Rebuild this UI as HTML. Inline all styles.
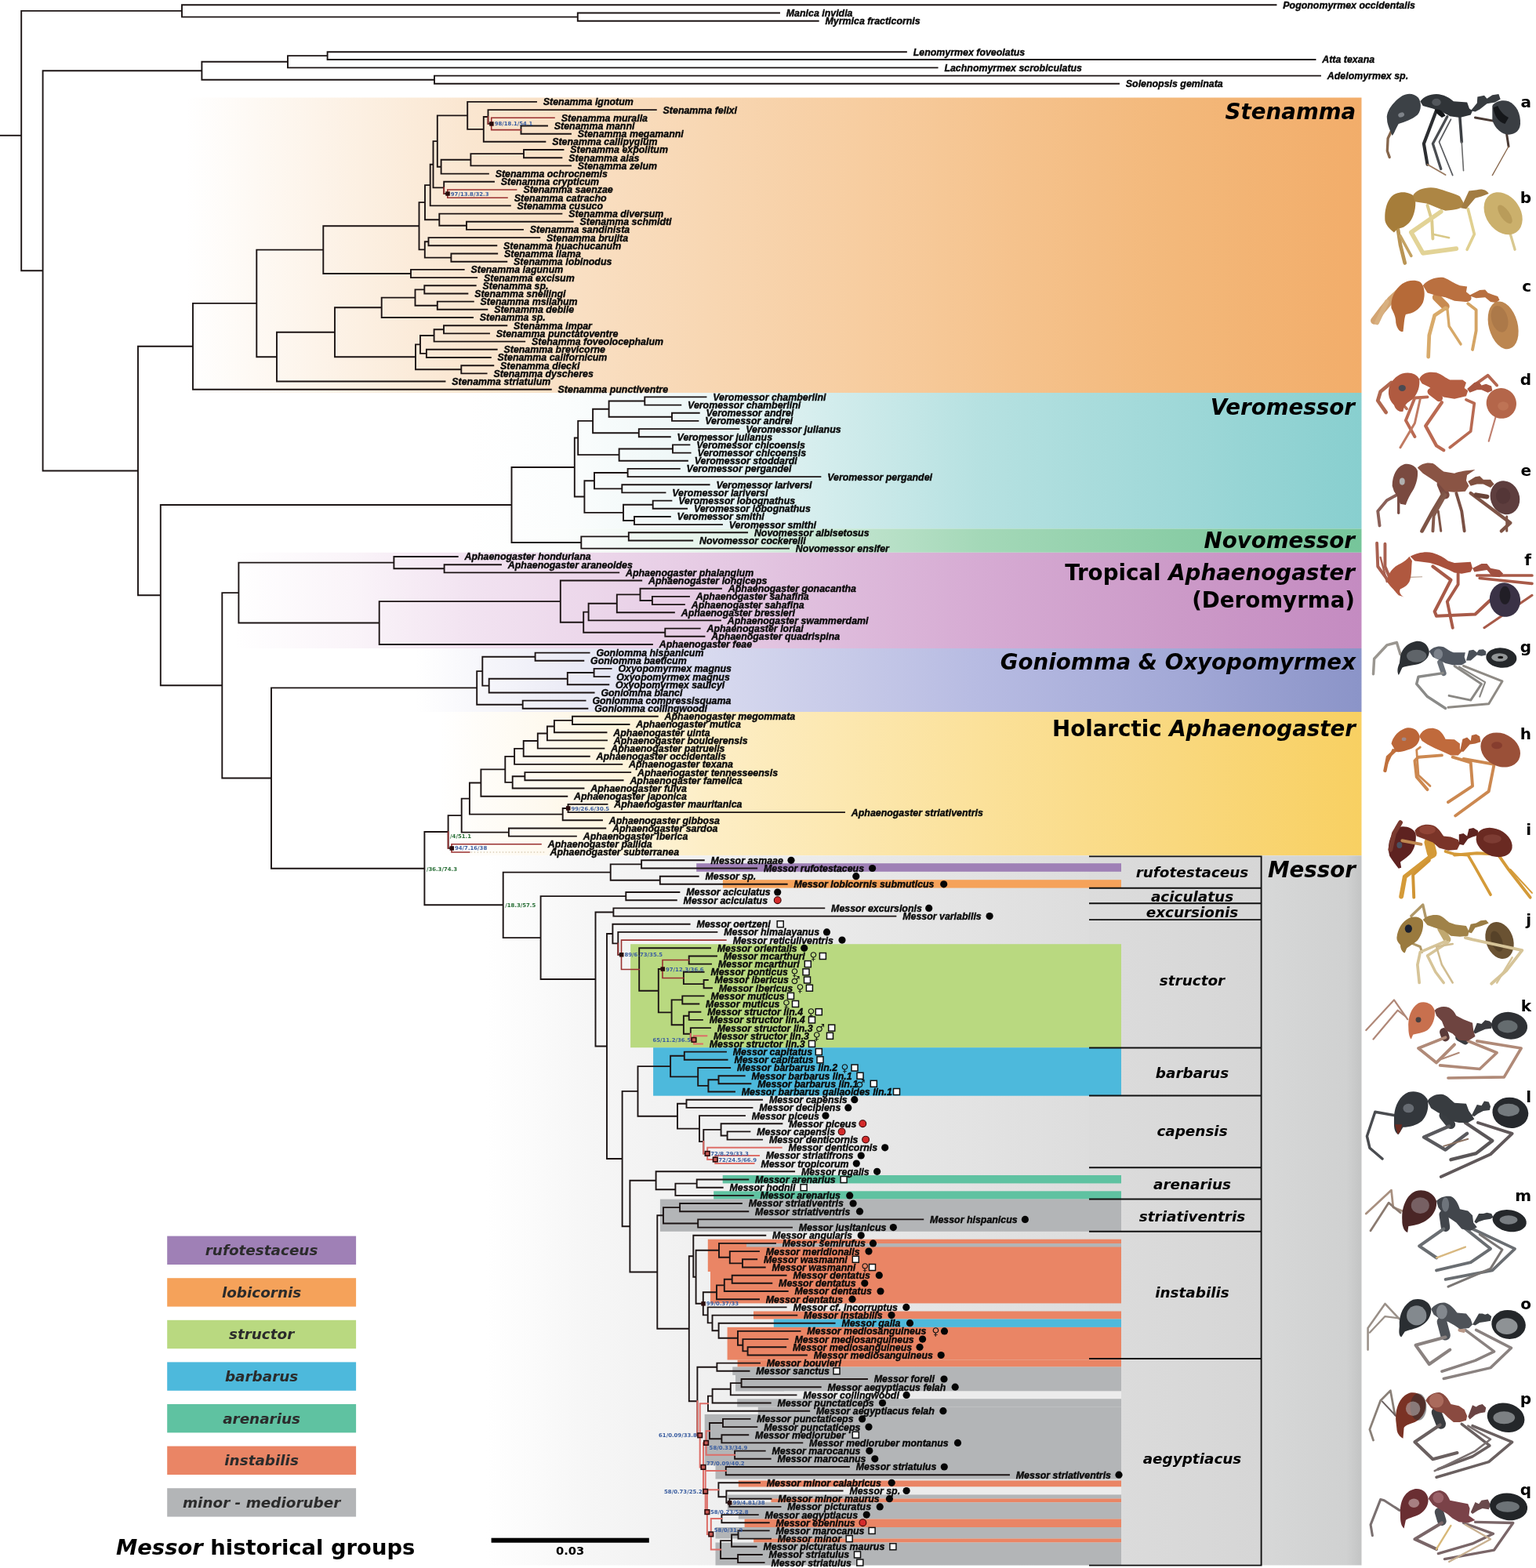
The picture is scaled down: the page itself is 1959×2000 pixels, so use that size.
<!DOCTYPE html>
<html><head><meta charset="utf-8"><title>Messor phylogeny</title><style>html,body{margin:0;padding:0;background:#fff;}svg{display:block;}</style></head><body>
<svg width="1959" height="2000" viewBox="0 0 1959 2000">
<rect width="1959" height="2000" fill="#ffffff"/>
<defs>
<linearGradient id="gSten" gradientUnits="userSpaceOnUse" x1="237" y1="0" x2="1736.5" y2="0">
<stop offset="0.0" stop-color="#ffffff"/>
<stop offset="0.1087" stop-color="#fdf4ea"/>
<stop offset="0.2421" stop-color="#fae6d0"/>
<stop offset="0.4421" stop-color="#f8d7b3"/>
<stop offset="0.5755" stop-color="#f7cda0"/>
<stop offset="0.7089" stop-color="#f5c28c"/>
<stop offset="0.8423" stop-color="#f3b87a"/>
<stop offset="1.0" stop-color="#f2ad6a"/>
</linearGradient>
<linearGradient id="gVero" gradientUnits="userSpaceOnUse" x1="600" y1="0" x2="1736.5" y2="0">
<stop offset="0.0" stop-color="#ffffff"/>
<stop offset="0.1056" stop-color="#fbfdfd"/>
<stop offset="0.264" stop-color="#ecf6f6"/>
<stop offset="0.396" stop-color="#d4eded"/>
<stop offset="0.5719" stop-color="#b6e1e1"/>
<stop offset="0.7919" stop-color="#9fd8d8"/>
<stop offset="1.0" stop-color="#88cfcf"/>
</linearGradient>
<linearGradient id="gNovo" gradientUnits="userSpaceOnUse" x1="600" y1="0" x2="1736.5" y2="0">
<stop offset="0.0" stop-color="#ffffff"/>
<stop offset="0.1056" stop-color="#fbfdfc"/>
<stop offset="0.264" stop-color="#e6f4eb"/>
<stop offset="0.396" stop-color="#c6e6d2"/>
<stop offset="0.5719" stop-color="#a4d8b8"/>
<stop offset="0.7919" stop-color="#8acda6"/>
<stop offset="1.0" stop-color="#76c59a"/>
</linearGradient>
<linearGradient id="gTrop" gradientUnits="userSpaceOnUse" x1="300" y1="0" x2="1736.5" y2="0">
<stop offset="0.0" stop-color="#ffffff"/>
<stop offset="0.1044" stop-color="#faf4f9"/>
<stop offset="0.2088" stop-color="#f2e3f1"/>
<stop offset="0.4177" stop-color="#e6cbe4"/>
<stop offset="0.6613" stop-color="#d6abd3"/>
<stop offset="0.8354" stop-color="#cc9ac8"/>
<stop offset="1.0" stop-color="#c48bc1"/>
</linearGradient>
<linearGradient id="gGon" gradientUnits="userSpaceOnUse" x1="530" y1="0" x2="1736.5" y2="0">
<stop offset="0.0" stop-color="#ffffff"/>
<stop offset="0.1409" stop-color="#eeeef7"/>
<stop offset="0.3067" stop-color="#d8daef"/>
<stop offset="0.5968" stop-color="#b7bbe2"/>
<stop offset="0.804" stop-color="#a3a9d7"/>
<stop offset="1.0" stop-color="#8b94c8"/>
</linearGradient>
<linearGradient id="gHol" gradientUnits="userSpaceOnUse" x1="560" y1="0" x2="1736.5" y2="0">
<stop offset="0.0" stop-color="#ffffff"/>
<stop offset="0.119" stop-color="#fef9ee"/>
<stop offset="0.289" stop-color="#fdeec6"/>
<stop offset="0.5865" stop-color="#fbe19a"/>
<stop offset="0.799" stop-color="#f9d87e"/>
<stop offset="1.0" stop-color="#f8d062"/>
</linearGradient>
<linearGradient id="gMes" gradientUnits="userSpaceOnUse" x1="620" y1="0" x2="1389" y2="0">
<stop offset="0.0" stop-color="#ffffff"/>
<stop offset="0.1691" stop-color="#f6f6f6"/>
<stop offset="0.4941" stop-color="#ececec"/>
<stop offset="1.0" stop-color="#dddddd"/>
</linearGradient>
<linearGradient id="gMes2" gradientUnits="userSpaceOnUse" x1="1389" y1="0" x2="1609" y2="0">
<stop offset="0" stop-color="#dcdcdc"/>
<stop offset="1" stop-color="#d6d6d6"/>
</linearGradient>
<linearGradient id="gMes3" gradientUnits="userSpaceOnUse" x1="1609" y1="0" x2="1736.5" y2="0">
<stop offset="0" stop-color="#d7d8d8"/>
<stop offset="0.85" stop-color="#d0d1d1"/>
<stop offset="1" stop-color="#c3c4c4"/>
</linearGradient>
</defs>
<rect x="237" y="124.5" width="1499.5" height="376.5" fill="url(#gSten)"/>
<rect x="600" y="501" width="1136.5" height="173.4" fill="url(#gVero)"/>
<rect x="600" y="674.4" width="1136.5" height="30.4" fill="url(#gNovo)"/>
<rect x="300" y="704.8" width="1436.5" height="122.2" fill="url(#gTrop)"/>
<rect x="530" y="827" width="1206.5" height="81" fill="url(#gGon)"/>
<rect x="560" y="908" width="1176.5" height="183.3" fill="url(#gHol)"/>
<rect x="620" y="1091.3" width="769" height="905.2" fill="url(#gMes)"/>
<rect x="1389" y="1091.3" width="220" height="905.2" fill="url(#gMes2)"/>
<rect x="1609" y="1091.3" width="127.5" height="905.2" fill="url(#gMes3)"/>
<rect x="888.2" y="1101.2" width="541.8" height="10.6" fill="#9f80b6"/>
<rect x="921.9" y="1122.2" width="508.1" height="10.4" fill="#f5a25a"/>
<rect x="804.1" y="1204.2" width="625.9" height="132" fill="#b9d980"/>
<rect x="833.1" y="1336.2" width="596.9" height="61.5" fill="#4db9dc"/>
<rect x="921.7" y="1499" width="508.3" height="10.4" fill="#5fc2a1"/>
<rect x="910.2" y="1519.3" width="519.8" height="10.3" fill="#5fc2a1"/>
<rect x="841.9" y="1529.6" width="588.1" height="41.2" fill="#b3b5b7"/>
<rect x="902.8" y="1580.7" width="527.2" height="41.3" fill="#ea8565"/>
<rect x="906" y="1622" width="524" height="40.4" fill="#ea8565"/>
<rect x="952" y="1586" width="478" height="4.5" fill="#b3b5b7"/>
<rect x="961" y="1672.5" width="469" height="10" fill="#ea8565"/>
<rect x="986.8" y="1682.5" width="443.2" height="10.4" fill="#4db9dc"/>
<rect x="927.6" y="1692.9" width="502.4" height="41.6" fill="#ea8565"/>
<rect x="940.6" y="1734.5" width="489.4" height="9" fill="#ea8565"/>
<rect x="934.3" y="1743.5" width="495.7" height="10.5" fill="#b3b5b7"/>
<rect x="938" y="1754" width="492" height="20.5" fill="#b3b5b7"/>
<rect x="1000" y="1774.5" width="430" height="9.8" fill="#ececec"/>
<rect x="940.2" y="1784.3" width="489.8" height="10.2" fill="#b3b5b7"/>
<rect x="966.8" y="1794.5" width="463.2" height="9.5" fill="#b3b5b7"/>
<rect x="898.7" y="1804" width="531.3" height="65" fill="#b3b5b7"/>
<rect x="912.5" y="1869" width="517.5" height="17.5" fill="#b3b5b7"/>
<rect x="941.8" y="1888.5" width="488.2" height="8" fill="#ea8565"/>
<rect x="1000" y="1896.5" width="430" height="10" fill="#ececec"/>
<rect x="927.8" y="1906.5" width="502.2" height="5" fill="#b3b5b7"/>
<rect x="983.5" y="1911.5" width="446.5" height="4.8" fill="#ea8565"/>
<rect x="927.8" y="1916.3" width="502.2" height="10.7" fill="#b3b5b7"/>
<rect x="941.8" y="1927" width="488.2" height="10.5" fill="#b3b5b7"/>
<rect x="949.6" y="1937.5" width="480.4" height="10.5" fill="#ea8565"/>
<rect x="912.5" y="1948" width="517.5" height="14.5" fill="#b3b5b7"/>
<rect x="961.2" y="1962.5" width="468.8" height="5" fill="#ea8565"/>
<rect x="912.5" y="1967.5" width="517.5" height="29" fill="#b3b5b7"/>
<path d="M1389 1092.4H1609.5M1389 1132.8H1609.5M1389 1152.3H1609.5M1389 1173.1H1609.5M1389 1336.5H1609.5M1389 1397.5H1609.5M1389 1489.2H1609.5M1389 1529.5H1609.5M1389 1570.8H1609.5M1389 1733H1609.5M1389 1996.6H1609.5M1608.6 1091.5V1997.5" stroke="#111" stroke-width="1.9" fill="none"/>
<path d="M27.2 13.9V345.3M27.2 13.9H232M232 6.2V21.6M232 6.2H1627.5M232 21.6H736.8M736.8 16.5V26.8M736.8 16.5H994M736.8 26.8H1043.7M27.2 345.3H54.6M54.6 90.2V600.5M54.6 90.2H257.4M257.4 78.8V101.7M257.4 78.8H367M367 71.1V86.4M367 71.1H417.6M417.6 66.2V76M417.6 66.2H1155.9M417.6 76H1677.5M367 86.4H1195.6M257.4 101.7H554M554 96.6V106.7M554 96.6H1684M554 106.7H1427M54.6 600.5H176M176 441.8V759.2M176 441.8H246M246 386.9V496.7M246 386.9H327.3M327.3 318.6V455.2M327.3 318.6H412.3M412.3 288.3V349M412.3 288.3H534.5M534.5 258.1V318.4M534.5 258.1H542M542 236.1V280.2M542 236.1H548.7M548.7 209.7V262.4M548.7 209.7H552.5M552.5 180.1V239.4M552.5 180.1H557.8M557.8 147.4V212.7M557.8 147.4H596.2M596.2 129.9V164.9M596.2 129.9H684M596.2 164.9H616.8M616.8 149V180.8M616.8 149H622.5M622.5 140.1V157.9M622.5 140.1H836.8M622.5 157.9H626.7M664.5 160.5V170.7M664.5 160.5H698M664.5 170.7H728M616.8 180.8H695.4M557.8 212.7H562.6M562.6 203.8V221.6M562.6 203.8H600.4M600.4 196.1V211.4M600.4 196.1H668M668 191V201.2M668 191H718.5M668 201.2H716.4M600.4 211.4H728M562.6 221.6H622.9M552.5 239.4H566.2M566.2 231.8V247.1M566.2 231.8H630M566.2 247.1H570.8M548.7 262.4H650.8M542 280.2H560.3M560.3 272.6V287.8M560.3 272.6H716.4M560.3 287.8H595M595 282.8V292.9M595 282.8H730.7M595 292.9H667M534.5 318.4H541.8M541.8 308.2V328.6M541.8 308.2H546.5M546.5 303.1V313.3M546.5 303.1H688.3M546.5 313.3H633.3M541.8 328.6H575.4M575.4 323.5V333.7M575.4 323.5H634.2M575.4 333.7H646.3M412.3 349H524M524 343.9V354.1M524 343.9H591.7M524 354.1H608.2M327.3 455.2H353M353 423.8V486.5M353 423.8H427M427 392.3V455.3M427 392.3H486.7M486.7 379.6V405M486.7 379.6H529.5M529.5 369.4V389.7M529.5 369.4H541.3M541.3 364.3V374.5M541.3 364.3H606.7M541.3 374.5H596.4M529.5 389.7H557.8M557.8 384.6V394.8M557.8 384.6H603.8M557.8 394.8H621.4M486.7 405H603M427 455.3H530M530 439.4V471.3M530 439.4H536M536 428V450.9M536 428H553.6M553.6 420.3V435.6M553.6 420.3H566M566 415.2V425.4M566 415.2H646.3M566 425.4H624M553.6 435.6H669.2M536 450.9H543.9M543.9 445.8V456M543.9 445.8H633.7M543.9 456H625.8M530 471.3H588.3M588.3 466.2V476.4M588.3 466.2H629.3M588.3 476.4H620.6M353 486.5H567.5M246 496.7H702.8M176 759.2H204.8M204.8 644V874.3M204.8 644H652.5M652.5 596V692M652.5 596H732.8M732.8 558.5V633.5M732.8 558.5H737.2M737.2 536.9V580.1M737.2 536.9H756.1M756.1 521.7V552.2M756.1 521.7H776.6M776.6 511.5V531.8M776.6 511.5H822.3M822.3 506.4V516.6M822.3 506.4H900.5M822.3 516.6H868.3M776.6 531.8H857M857 526.7V536.9M857 526.7H891.7M857 536.9H890.4M756.1 552.2H814.8M814.8 547.1V557.2M814.8 547.1H942.4M814.8 557.2H854.8M737.2 580.1H789.6M789.6 572.5V587.8M789.6 572.5H858M858 567.4V577.6M858 567.4H879.4M858 577.6H880.6M789.6 587.8H876.9M732.8 633.5H745.4M745.4 613.2V653.9M745.4 613.2H758M758 603V623.4M758 603H800.6M800.6 597.9V608.1M800.6 597.9H866.8M800.6 608.1H1046.4M758 623.4H793.3M793.3 618.3V628.4M793.3 618.3H904.6M793.3 628.4H848.5M745.4 653.9H795M795 643.7V664M795 643.7H832.7M832.7 638.6V648.8M832.7 638.6H856.4M832.7 648.8H876.1M795 664H809M809 659V669.1M809 659H854.8M809 669.1H921M652.5 692H741.3M741.3 684.4V699.6M741.3 684.4H801.8M801.8 679.3V689.5M801.8 679.3H953.1M801.8 689.5H883.2M741.3 699.6H1006M204.8 874.3H283.3M283.3 756.1V992.5M283.3 756.1H304.4M304.4 717.6V794.5M304.4 717.6H502.4M502.4 710V725.3M502.4 710H583.7M502.4 725.3H566.6M566.6 720.2V730.4M566.6 720.2H639M566.6 730.4H789.2M304.4 794.5H483.7M483.7 767.1V822M483.7 767.1H714.8M714.8 740.5V793.7M714.8 740.5H818.2M714.8 793.7H744.2M744.2 780.6V806.7M744.2 780.6H750.6M750.6 769.8V791.4M750.6 769.8H786.8M786.8 758.4V781.3M786.8 758.4H816.5M816.5 750.7V766M816.5 750.7H920M816.5 766H831.9M831.9 760.9V771.1M831.9 760.9H879M831.9 771.1H872.9M786.8 781.3H859.9M750.6 791.4H919M744.2 806.7H848.3M848.3 801.6V811.8M848.3 801.6H892.7M848.3 811.8H898.5M483.7 822H831.9M283.3 992.5H346M346 877.4V1107.7M346 877.4H608.2M608.2 856.1V898.7M608.2 856.1H615.3M615.3 837.7V874.6M615.3 837.7H682.6M682.6 832.6V842.8M682.6 832.6H751.6M682.6 842.8H744.3M615.3 874.6H623.7M623.7 865.7V883.5M623.7 865.7H723.8M723.8 858V873.3M723.8 858H757.6M757.6 852.9V863.1M757.6 852.9H779.6M757.6 863.1H777.4M723.8 873.3H776.3M623.7 883.5H757.6M608.2 898.7H666.7M666.7 893.6V903.8M666.7 893.6H746.6M666.7 903.8H749.4M346 1107.7H541.4M541.4 1061V1154.3M541.4 1061H571.6M571.6 1040.1V1081.9M571.6 1040.1H588.7M588.7 1018.6V1061.6M588.7 1018.6H598.9M598.9 998.5V1038.6M598.9 998.5H613.4M613.4 981.4V1015.7M613.4 981.4H644.3M644.3 964.9V997.9M644.3 964.9H656.1M656.1 954.9V974.9M656.1 954.9H667.7M667.7 945V964.8M667.7 945H685.8M685.8 935.5V954.6M685.8 935.5H697.9M697.9 926.5V944.4M697.9 926.5H706.9M706.9 918.9V934.2M706.9 918.9H730M730 913.8V924M730 913.8H838.8M730 924H802.5M706.9 934.2H773.5M697.9 944.4H774M685.8 954.6H770.4M667.7 964.8H751.8M656.1 974.9H793.3M644.3 997.9H653.7M653.7 990.2V1005.5M653.7 990.2H669.4M669.4 985.1V995.3M669.4 985.1H804.2M669.4 995.3H794.6M653.7 1005.5H744.5M613.4 1015.7H723.3M598.9 1038.6H717.7M717.7 1031V1046.3M717.7 1031H724.5M724.5 1025.9V1036.1M724.5 1025.9H774.5M724.5 1036.1H1077M717.7 1046.3H768M588.7 1061.6H648.9M648.9 1056.5V1066.6M648.9 1056.5H772.3M648.9 1066.6H734.9M571.6 1081.9H576M541.4 1154.3H641.7M641.7 1112.6V1196.1M641.7 1112.6H778.7M778.7 1102.4V1122.8M778.7 1102.4H818.1M818.1 1097.3V1107.5M818.1 1097.3H897.8M818.1 1107.5H965.2M778.7 1122.8H841.8M841.8 1117.7V1127.8M841.8 1117.7H890.7M841.8 1127.8H1003.7M641.7 1196.1H689.6M689.6 1143.1V1249M689.6 1143.1H798.3M798.3 1138V1148.2M798.3 1138H866.4M798.3 1148.2H862.8M689.6 1249H759.5M759.5 1163.5V1334.5M759.5 1163.5H782.4M782.4 1158.4V1168.6M782.4 1158.4H1051.3M782.4 1168.6H1142.4M759.5 1334.5H774M774 1191V1478M774 1191H781.4M781.4 1178.7V1203.4M781.4 1178.7H879.6M781.4 1203.4H788.3M788.3 1188.9V1217.8M788.3 1188.9H914.4M788.3 1217.8H792.5M815.2 1209.3V1263.7M815.2 1209.3H906M815.2 1263.7H839.8M839.8 1236V1291.4M839.8 1236H845M878.7 1219.5V1229.6M878.7 1219.5H914M878.7 1229.6H907M871.9 1239.8V1255.1M871.9 1239.8H897.6M871.9 1255.1H897.6M897.6 1250V1260.2M897.6 1250H902.8M897.6 1260.2H908M839.8 1291.4H856.6M856.6 1275.4V1307.3M856.6 1275.4H870.3M870.3 1270.4V1280.5M870.3 1270.4H897.6M870.3 1280.5H891.3M856.6 1307.3H871.9M871.9 1295.8V1318.7M871.9 1295.8H878.7M878.7 1290.7V1300.9M878.7 1290.7H893.4M878.7 1300.9H895.9M871.9 1318.7H880.8M880.8 1311.1V1326.3M880.8 1311.1H906M880.8 1326.3H885M774 1478H793.6M793.6 1391.9V1564.2M793.6 1391.9H813.5M813.5 1360.1V1423.7M813.5 1360.1H855.1M855.1 1346.7V1373.4M855.1 1346.7H872.8M872.8 1341.6V1351.8M872.8 1341.6H926M872.8 1351.8H927.6M855.1 1373.4H890.2M890.2 1362V1384.9M890.2 1362H931.2M890.2 1384.9H903.4M903.4 1377.2V1392.5M903.4 1377.2H916.5M916.5 1372.2V1382.3M916.5 1372.2H949.7M916.5 1382.3H957.4M903.4 1392.5H937M813.5 1423.7H864M864 1407.8V1439.6M864 1407.8H875.5M875.5 1402.7V1412.9M875.5 1402.7H972.1M875.5 1412.9H959.5M864 1439.6H892M892 1423.1V1456.1M892 1423.1H950M892 1456.1H897.3M897.3 1440.9V1471.4M897.3 1440.9H919.6M919.6 1433.2V1448.5M919.6 1433.2H997.4M919.6 1448.5H927.6M927.6 1443.4V1453.6M927.6 1443.4H956.4M927.6 1453.6H972.1M897.3 1471.4H902.2M793.6 1564.2H803.4M803.4 1505.8V1622.5M803.4 1505.8H836.6M836.6 1494.3V1517.2M836.6 1494.3H1013.1M836.6 1517.2H861.4M861.4 1509.6V1524.9M861.4 1509.6H888.7M888.7 1504.5V1514.7M888.7 1504.5H954.3M888.7 1514.7H921.7M861.4 1524.9H960.6M803.4 1622.5H838.3M838.3 1550.3V1694.8M838.3 1550.3H846M846 1540.1V1560.5M846 1540.1H867.1M867.1 1535V1545.2M867.1 1535H945.9M867.1 1545.2H954.3M846 1560.5H890.2M890.2 1555.4V1565.6M890.2 1555.4H1177.3M890.2 1565.6H1010M838.3 1694.8H878.8M878.8 1602.3V1787.3M878.8 1602.3H884.3M884.3 1575.8V1628.8M884.3 1575.8H976.3M884.3 1628.8H887.6M887.6 1594.8V1662.8M887.6 1594.8H917M917 1585.9V1603.8M917 1585.9H989M917 1603.8H930.8M930.8 1596.1V1611.4M930.8 1596.1H968M930.8 1611.4H947M947 1606.3V1616.5M947 1606.3H965.2M947 1616.5H975.7M887.6 1662.8H896.8M896.8 1648.3V1677.4M896.8 1648.3H914M914 1639.4V1657.2M914 1639.4H923.8M923.8 1631.8V1647M923.8 1631.8H933.7M933.7 1626.7V1636.8M933.7 1626.7H1002.6M933.7 1636.8H984.3M923.8 1647H1004.7M914 1657.2H968M896.8 1677.4H902.7M902.7 1667.4V1687.4M902.7 1667.4H1002.6M902.7 1687.4H908.5M908.5 1677.6V1697.3M908.5 1677.6H1016.3M908.5 1697.3H916.6M916.6 1687.7V1706.8M916.6 1687.7H1064.6M916.6 1706.8H941M941 1697.9V1715.7M941 1697.9H1020.5M941 1715.7H947.4M947.4 1708.1V1723.4M947.4 1708.1H1004.7M947.4 1723.4H953.6M953.6 1718.3V1728.5M953.6 1718.3H1002.2M953.6 1728.5H1028.9M878.8 1787.3H889.4M889.4 1743.7V1830.8M889.4 1743.7H914.4M914.4 1738.6V1748.8M914.4 1738.6H969M914.4 1748.8H955.5M889.4 1830.8H892.7M903 1780.6V1799.7M903 1780.6H908.6M908.6 1771.7V1789.5M908.6 1771.7H931.8M931.8 1764.1V1779.4M931.8 1764.1H945.6M945.6 1759V1769.2M945.6 1759H1106M945.6 1769.2H1046.7M931.8 1779.4H1015.5M908.6 1789.5H982.7M903 1799.7H1032.2M905 1815V1835.3M905 1815H922M922 1809.9V1820.1M922 1809.9H956.5M922 1820.1H965.4M905 1835.3H920.4M920.4 1830.3V1840.4M920.4 1830.3H954.3M920.4 1840.4H1023.3M937.1 1850.6V1860.8M937.1 1850.6H975.7M937.1 1860.8H982.7M925.8 1871V1881.2M925.8 1871H1082.9M925.8 1881.2H1287M916.4 1891.3V1909.2M916.4 1891.3H969M916.4 1909.2H926.4M926.4 1901.5V1916.8M926.4 1901.5H1074.6M926.4 1916.8H930.4M930.4 1911.7V1921.9M930.4 1911.7H983.5M930.4 1921.9H995.5M920.4 1932.1V1942.2M920.4 1932.1H966.8M920.4 1942.2H980.7M919.1 1965.1V1988M919.1 1965.1H933.1M933.1 1957.5V1972.8M933.1 1957.5H941.5M941.5 1952.4V1962.6M941.5 1952.4H980.7M941.5 1962.6H983M933.1 1972.8H964.6M919.1 1988H941.1M941.1 1983V1993.1M941.1 1983H971.8M941.1 1993.1H974.6" stroke="#1c1414" stroke-width="1.9" fill="none" stroke-linecap="square"/>
<path d="M626.7 150.3V165.6M626.7 150.3H707M626.7 165.6H664.5M570.8 242V252.2M570.8 242H658.6M570.8 252.2H647M576 1076.8V1087M576 1076.8H690M576 1087H598.7M792.5 1199.1V1236.5M792.5 1199.1H925.9M792.5 1236.5H815.2M845 1224.5V1247.5M845 1224.5H878.7M845 1247.5H871.9M622.5 149V157.9M566.2 239.4V247.1M571.6 1061V1081.9M788.3 1203.4V1217.8" stroke="#9a3030" stroke-width="1.6" fill="none" stroke-linecap="square"/>
<path d="M885 1321.3V1331.4M885 1321.3H901.3M885 1331.4H895.9M902.2 1463.8V1479M902.2 1463.8H996.7M902.2 1479H912.3M912.3 1474V1484.1M912.3 1474H968M912.3 1484.1H961.6M892.7 1790.2V1871.4M892.7 1790.2H903M892.7 1871.4H897M897 1840.4V1902.3M897 1840.4H900.6M900.6 1825.2V1855.7M900.6 1825.2H905M900.6 1855.7H937.1M897 1902.3H899.7M899.7 1876.1V1928.6M899.7 1876.1H925.8M899.7 1928.6H901.9M901.9 1900.2V1956.9M901.9 1900.2H916.4M901.9 1956.9H906.8M906.8 1937.1V1976.6M906.8 1937.1H920.4M906.8 1976.6H919.1M880.8 1318.7V1326.3M897.3 1456.1V1471.4M902.2 1471.4V1479M889.4 1787.3V1830.8M892.7 1830.8V1871.4M897 1871.4V1840.4M897 1871.4V1902.3M899.7 1902.3V1928.6M901.9 1928.6V1956.9" stroke="#dd6e68" stroke-width="2" fill="none" stroke-linecap="square"/>
<path d="M600.7 1087H695.5" stroke="#c8b89a" stroke-width="1" stroke-dasharray="1.5 2.5"/>
<path d="M0 172.8H27.2" stroke="#1c1414" stroke-width="1.9"/>
<rect x="624.2" y="155.2" width="5.5" height="5.5" fill="#2a0c0c"/>
<rect x="568.3" y="244.3" width="5.5" height="5.5" fill="#2a0c0c"/>
<rect x="722" y="1028.2" width="5.5" height="5.5" fill="#2a0c0c"/>
<rect x="573.5" y="1079.2" width="5.5" height="5.5" fill="#2a0c0c"/>
<rect x="842.5" y="1233.3" width="5.5" height="5.5" fill="#2a0c0c"/>
<rect x="882.2" y="1323.5" width="5.6" height="5.6" fill="#c65a55" stroke="#2a0a0a" stroke-width="1.6"/>
<rect x="790" y="1215" width="5.5" height="5.5" fill="#2a0c0c"/>
<rect x="909.5" y="1476.2" width="5.6" height="5.6" fill="#c65a55" stroke="#2a0a0a" stroke-width="1.6"/>
<rect x="899.4" y="1468.6" width="5.6" height="5.6" fill="#c65a55" stroke="#2a0a0a" stroke-width="1.6"/>
<rect x="894.3" y="1660.1" width="5.5" height="5.5" fill="#2a0c0c"/>
<rect x="897.8" y="1837.6" width="5.6" height="5.6" fill="#c65a55" stroke="#2a0a0a" stroke-width="1.6"/>
<rect x="927.9" y="1914" width="5.5" height="5.5" fill="#2a0c0c"/>
<rect x="904" y="1954.1" width="5.6" height="5.6" fill="#c65a55" stroke="#2a0a0a" stroke-width="1.6"/>
<rect x="899.1" y="1925.8" width="5.6" height="5.6" fill="#c65a55" stroke="#2a0a0a" stroke-width="1.6"/>
<rect x="896.9" y="1899.5" width="5.6" height="5.6" fill="#c65a55" stroke="#2a0a0a" stroke-width="1.6"/>
<rect x="894.2" y="1868.6" width="5.6" height="5.6" fill="#c65a55" stroke="#2a0a0a" stroke-width="1.6"/>
<rect x="889.9" y="1828" width="5.6" height="5.6" fill="#c65a55" stroke="#2a0a0a" stroke-width="1.6"/>
<g font-family="DejaVu Sans, sans-serif" font-weight="bold" font-size="6.9px">
<text x="630.7" y="160.4" fill="#3b5ea0">98/18.1/54.1</text>
<text x="574.8" y="249.6" fill="#3b5ea0">97/13.8/32.3</text>
<text x="728.5" y="1033.5" fill="#3b5ea0">99/26.6/30.5</text>
<text x="580" y="1084.4" fill="#3b5ea0">94/7.16/38</text>
<text x="574.1" y="1069" fill="#2a7038">/4/51.1</text>
<text x="849" y="1238.5" fill="#3b5ea0">97/12.3/36.6</text>
<text x="881" y="1328.8" fill="#3b5ea0" text-anchor="end">65/11.2/36.5</text>
<text x="796.5" y="1220.3" fill="#3b5ea0">89/6.73/35.5</text>
<text x="916.3" y="1481.5" fill="#3b5ea0">72/24.5/66.9</text>
<text x="906.2" y="1473.9" fill="#3b5ea0">72/8.29/33.3</text>
<text x="900.8" y="1665.3" fill="#3b5ea0">99/0.37/33</text>
<text x="904.6" y="1848.9" fill="#3b5ea0">58/0.33/34.9</text>
<text x="934.4" y="1919.3" fill="#3b5ea0">99/4.81/38</text>
<text x="910.8" y="1954.4" fill="#3b5ea0">58/0/31.9</text>
<text x="905.9" y="1931.1" fill="#3b5ea0">58/0.23/52.8</text>
<text x="895.7" y="1904.8" fill="#3b5ea0" text-anchor="end">58/0.73/25.2</text>
<text x="901" y="1868.9" fill="#3b5ea0">77/0.09/40.2</text>
<text x="888.7" y="1833.3" fill="#3b5ea0" text-anchor="end">61/0.09/33.8</text>
<text x="644.2" y="1157.1" fill="#2a7038">/18.3/57.5</text>
<text x="543.9" y="1110.5" fill="#2a7038">/36.3/74.3</text>
</g>
<g font-family="Liberation Sans, sans-serif" font-weight="bold" font-style="italic" font-size="12.4px" fill="#0a0a0a" stroke="#0a0a0a" stroke-width="0.4">
<text x="1636.3" y="10.6">Pogonomyrmex occidentalis</text>
<text x="1002.8" y="20.9">Manica invidia</text>
<text x="1052.5" y="31.2">Myrmica fracticornis</text>
<text x="1164.7" y="70.6">Lenomyrmex foveolatus</text>
<text x="1686.3" y="80.4">Atta texana</text>
<text x="1204.4" y="90.8">Lachnomyrmex scrobiculatus</text>
<text x="1692.8" y="101">Adelomyrmex sp.</text>
<text x="1435.8" y="111.1">Solenopsis geminata</text>
<text x="692.8" y="134.3">Stenamma ignotum</text>
<text x="845.6" y="144.5">Stenamma felixi</text>
<text x="715.8" y="154.7">Stenamma muralla</text>
<text x="706.8" y="164.9">Stenamma manni</text>
<text x="736.8" y="175.1">Stenamma megamanni</text>
<text x="704.2" y="185.2">Stenamma callipygium</text>
<text x="727.3" y="195.4">Stenamma expolitum</text>
<text x="725.2" y="205.6">Stenamma alas</text>
<text x="736.8" y="215.8">Stenamma zelum</text>
<text x="631.7" y="226">Stenamma ochrocnemis</text>
<text x="638.8" y="236.2">Stenamma crypticum</text>
<text x="667.4" y="246.4">Stenamma saenzae</text>
<text x="655.8" y="256.6">Stenamma catracho</text>
<text x="659.6" y="266.8">Stenamma cusuco</text>
<text x="725.2" y="277">Stenamma diversum</text>
<text x="739.5" y="287.1">Stenamma schmidti</text>
<text x="675.8" y="297.3">Stenamma sandinista</text>
<text x="697.1" y="307.5">Stenamma brujita</text>
<text x="642.1" y="317.7">Stenamma huachucanum</text>
<text x="643" y="327.9">Stenamma llama</text>
<text x="655.1" y="338.1">Stenamma lobinodus</text>
<text x="600.5" y="348.3">Stenamma lagunum</text>
<text x="617" y="358.5">Stenamma excisum</text>
<text x="615.5" y="368.7">Stenamma sp.</text>
<text x="605.2" y="378.9">Stenamma snellingi</text>
<text x="612.6" y="389">Stenamma msilanum</text>
<text x="630.2" y="399.2">Stenamma debile</text>
<text x="611.8" y="409.4">Stenamma sp.</text>
<text x="655.1" y="419.6">Stenamma impar</text>
<text x="632.8" y="429.8">Stenamma punctatoventre</text>
<text x="678" y="440">Stenamma foveolocephalum</text>
<text x="642.5" y="450.2">Stenamma brevicorne</text>
<text x="634.6" y="460.4">Stenamma californicum</text>
<text x="638.1" y="470.6">Stenamma diecki</text>
<text x="629.4" y="480.8">Stenamma dyscheres</text>
<text x="576.3" y="490.9">Stenamma striatulum</text>
<text x="711.6" y="501.1">Stenamma punctiventre</text>
<text x="909.3" y="510.8">Veromessor chamberlini</text>
<text x="877.1" y="521">Veromessor chamberlini</text>
<text x="900.5" y="531.1">Veromessor andrei</text>
<text x="899.2" y="541.3">Veromessor andrei</text>
<text x="951.2" y="551.5">Veromessor julianus</text>
<text x="863.6" y="561.6">Veromessor julianus</text>
<text x="888.2" y="571.8">Veromessor chicoensis</text>
<text x="889.4" y="582">Veromessor chicoensis</text>
<text x="885.7" y="592.2">Veromessor stoddardi</text>
<text x="875.6" y="602.3">Veromessor pergandei</text>
<text x="1055.2" y="612.5">Veromessor pergandei</text>
<text x="913.4" y="622.7">Veromessor lariversi</text>
<text x="857.3" y="632.8">Veromessor lariversi</text>
<text x="865.2" y="643">Veromessor lobognathus</text>
<text x="884.9" y="653.2">Veromessor lobognathus</text>
<text x="863.6" y="663.4">Veromessor smithi</text>
<text x="929.8" y="673.5">Veromessor smithi</text>
<text x="961.9" y="683.7">Novomessor albisetosus</text>
<text x="892" y="693.9">Novomessor cockerelli</text>
<text x="1014.8" y="704">Novomessor ensifer</text>
<text x="592.5" y="714.4">Aphaenogaster honduriana</text>
<text x="647.8" y="724.6">Aphaenogaster araneoides</text>
<text x="798" y="734.8">Aphaenogaster phalangium</text>
<text x="827" y="744.9">Aphaenogaster longiceps</text>
<text x="928.8" y="755.1">Aphaenogaster gonacantha</text>
<text x="887.8" y="765.3">Aphaenogaster sahafina</text>
<text x="881.7" y="775.5">Aphaenogaster sahafina</text>
<text x="868.7" y="785.7">Aphaenogaster bressleri</text>
<text x="927.8" y="795.8">Aphaenogaster swammerdami</text>
<text x="901.5" y="806">Aphaenogaster loriai</text>
<text x="907.3" y="816.2">Aphaenogaster quadrispina</text>
<text x="840.7" y="826.4">Aphaenogaster feae</text>
<text x="760.4" y="837">Goniomma hispanicum</text>
<text x="753.1" y="847.2">Goniomma baeticum</text>
<text x="788.4" y="857.3">Oxyopomyrmex magnus</text>
<text x="786.2" y="867.5">Oxyopomyrmex magnus</text>
<text x="785.1" y="877.7">Oxyopomyrmex saulcyi</text>
<text x="766.4" y="887.9">Goniomma blanci</text>
<text x="755.4" y="898">Goniomma compressisquama</text>
<text x="758.2" y="908.2">Goniomma collingwoodi</text>
<text x="847.6" y="918.2">Aphaenogaster megommata</text>
<text x="811.3" y="928.4">Aphaenogaster mutica</text>
<text x="782.3" y="938.6">Aphaenogaster uinta</text>
<text x="782.8" y="948.8">Aphaenogaster boulderensis</text>
<text x="779.2" y="959">Aphaenogaster patruelis</text>
<text x="760.6" y="969.1">Aphaenogaster occidentalis</text>
<text x="802.1" y="979.3">Aphaenogaster texana</text>
<text x="813" y="989.5">Aphaenogaster tennesseensis</text>
<text x="803.4" y="999.7">Aphaenogaster famelica</text>
<text x="753.3" y="1009.9">Aphaenogaster fulva</text>
<text x="732.1" y="1020.1">Aphaenogaster japonica</text>
<text x="783.3" y="1030.3">Aphaenogaster mauritanica</text>
<text x="1085.8" y="1040.5">Aphaenogaster striativentris</text>
<text x="776.8" y="1050.7">Aphaenogaster gibbosa</text>
<text x="781.1" y="1060.9">Aphaenogaster sardoa</text>
<text x="743.7" y="1071">Aphaenogaster iberica</text>
<text x="698.8" y="1081.2">Aphaenogaster pallida</text>
<text x="701.5" y="1091.4">Aphaenogaster subterranea</text>
<text x="906.6" y="1101.7">Messor asmaae</text>
<text x="974" y="1111.9">Messor rufotestaceus</text>
<text x="899.5" y="1122.1">Messor sp.</text>
<text x="1012.5" y="1132.2">Messor lobicornis submuticus</text>
<text x="875.2" y="1142.4">Messor aciculatus</text>
<text x="871.6" y="1152.6">Messor aciculatus</text>
<text x="1060.1" y="1162.8">Messor excursionis</text>
<text x="1151.2" y="1173">Messor variabilis</text>
<text x="888.4" y="1183.1">Messor oertzeni</text>
<text x="923.2" y="1193.3">Messor himalayanus</text>
<text x="934.7" y="1203.5">Messor reticuliventris</text>
<text x="914.8" y="1213.7">Messor orientalis</text>
<text x="922.8" y="1223.9">Messor mcarthuri</text>
<text x="915.8" y="1234">Messor mcarthuri</text>
<text x="906.4" y="1244.2">Messor ponticus</text>
<text x="911.6" y="1254.4">Messor ibericus</text>
<text x="916.8" y="1264.6">Messor ibericus</text>
<text x="906.4" y="1274.8">Messor muticus</text>
<text x="900.1" y="1284.9">Messor muticus</text>
<text x="902.2" y="1295.1">Messor structor lin.4</text>
<text x="904.7" y="1305.3">Messor structor lin.4</text>
<text x="914.8" y="1315.5">Messor structor lin.3</text>
<text x="910.1" y="1325.7">Messor structor lin.3</text>
<text x="904.7" y="1335.8">Messor structor lin.3</text>
<text x="934.8" y="1346">Messor capitatus</text>
<text x="936.4" y="1356.2">Messor capitatus</text>
<text x="940" y="1366.4">Messor barbarus lin.2</text>
<text x="958.5" y="1376.6">Messor barbarus lin.1</text>
<text x="966.2" y="1386.7">Messor barbarus lin.1</text>
<text x="945.8" y="1396.9">Messor barbarus gallaoides lin.1</text>
<text x="980.9" y="1407.1">Messor capensis</text>
<text x="968.3" y="1417.3">Messor decipiens</text>
<text x="958.8" y="1427.5">Messor piceus</text>
<text x="1006.2" y="1437.6">Messor piceus</text>
<text x="965.2" y="1447.8">Messor capensis</text>
<text x="980.9" y="1458">Messor denticornis</text>
<text x="1005.5" y="1468.2">Messor denticornis</text>
<text x="976.8" y="1478.4">Messor striatifrons</text>
<text x="970.4" y="1488.5">Messor tropicorum</text>
<text x="1021.9" y="1498.7">Messor regalis</text>
<text x="963.1" y="1508.9">Messor arenarius</text>
<text x="930.5" y="1519.1">Messor hodnii</text>
<text x="969.4" y="1529.3">Messor arenarius</text>
<text x="954.7" y="1539.4">Messor striativentris</text>
<text x="963.1" y="1549.6">Messor striativentris</text>
<text x="1186.1" y="1559.8">Messor hispanicus</text>
<text x="1018.8" y="1570">Messor lusitanicus</text>
<text x="985.1" y="1580.2">Messor angularis</text>
<text x="997.8" y="1590.3">Messor semirufus</text>
<text x="976.8" y="1600.5">Messor meridionalis</text>
<text x="974" y="1610.7">Messor wasmanni</text>
<text x="984.5" y="1620.9">Messor wasmanni</text>
<text x="1011.4" y="1631.1">Messor dentatus</text>
<text x="993.1" y="1641.2">Messor dentatus</text>
<text x="1013.5" y="1651.4">Messor dentatus</text>
<text x="976.8" y="1661.6">Messor dentatus</text>
<text x="1011.4" y="1671.8">Messor cf. incorruptus</text>
<text x="1025.1" y="1682">Messor instabilis</text>
<text x="1073.4" y="1692.1">Messor galla</text>
<text x="1029.3" y="1702.3">Messor mediosanguineus</text>
<text x="1013.5" y="1712.5">Messor mediosanguineus</text>
<text x="1011" y="1722.7">Messor mediosanguineus</text>
<text x="1037.7" y="1732.9">Messor mediosanguineus</text>
<text x="977.8" y="1743">Messor bouvieri</text>
<text x="964.3" y="1753.2">Messor sanctus</text>
<text x="1114.8" y="1763.4">Messor foreli</text>
<text x="1055.5" y="1773.6">Messor aegyptiacus felah</text>
<text x="1024.3" y="1783.8">Messor collingwoodi</text>
<text x="991.5" y="1793.9">Messor punctaticeps</text>
<text x="1041" y="1804.1">Messor aegyptiacus felah</text>
<text x="965.3" y="1814.3">Messor punctaticeps</text>
<text x="974.2" y="1824.5">Messor punctaticeps</text>
<text x="963.1" y="1834.7">Messor medioruber</text>
<text x="1032.1" y="1844.8">Messor medioruber montanus</text>
<text x="984.5" y="1855">Messor marocanus</text>
<text x="991.5" y="1865.2">Messor marocanus</text>
<text x="1091.7" y="1875.4">Messor striatulus</text>
<text x="1295.8" y="1885.6">Messor striativentris</text>
<text x="977.8" y="1895.7">Messor minor calabricus</text>
<text x="1083.4" y="1905.9">Messor sp.</text>
<text x="992.3" y="1916.1">Messor minor maurus</text>
<text x="1004.3" y="1926.3">Messor picturatus</text>
<text x="975.6" y="1936.5">Messor aegyptiacus</text>
<text x="989.5" y="1946.6">Messor ebeninus</text>
<text x="989.5" y="1956.8">Messor marocanus</text>
<text x="991.8" y="1967">Messor minor</text>
<text x="973.4" y="1977.2">Messor picturatus maurus</text>
<text x="980.6" y="1987.4">Messor striatulus</text>
<text x="983.4" y="1997.5">Messor striatulus</text>
</g>
<g fill="#111"><circle cx="1009" cy="1097.3" r="4.6" fill="#050505"/><circle cx="1112.6" cy="1107.5" r="4.6" fill="#050505"/><circle cx="1091.8" cy="1117.7" r="4.6" fill="#050505"/><circle cx="1203.7" cy="1127.8" r="4.6" fill="#050505"/><circle cx="991.7" cy="1138" r="4.6" fill="#050505"/><circle cx="991.7" cy="1148.2" r="4.4" fill="#d42b2b" stroke="#3a0505" stroke-width="1.1"/><circle cx="1184.7" cy="1158.4" r="4.6" fill="#050505"/><circle cx="1262.1" cy="1168.6" r="4.6" fill="#050505"/><rect x="991.2" y="1174.7" width="8" height="8" fill="#fff" stroke="#111" stroke-width="1.5"/><circle cx="1054.5" cy="1188.9" r="4.6" fill="#050505"/><circle cx="1074" cy="1199.1" r="4.6" fill="#050505"/><circle cx="1025.7" cy="1209.3" r="4.6" fill="#050505"/><text x="1037.5" y="1224.3" font-size="13.5px" font-family="DejaVu Sans, sans-serif" font-weight="bold" text-anchor="middle">♀</text><rect x="1045.4" y="1215.5" width="8" height="8" fill="#fff" stroke="#111" stroke-width="1.5"/><rect x="1026.3" y="1225.6" width="8" height="8" fill="#fff" stroke="#111" stroke-width="1.5"/><text x="1013.5" y="1244.6" font-size="13.5px" font-family="DejaVu Sans, sans-serif" font-weight="bold" text-anchor="middle">♀</text><rect x="1024" y="1235.8" width="8" height="8" fill="#fff" stroke="#111" stroke-width="1.5"/><text x="1014.5" y="1254.8" font-size="13.5px" font-family="DejaVu Sans, sans-serif" font-weight="bold" text-anchor="middle">♂</text><rect x="1025.5" y="1246" width="8" height="8" fill="#fff" stroke="#111" stroke-width="1.5"/><text x="1020.4" y="1265" font-size="13.5px" font-family="DejaVu Sans, sans-serif" font-weight="bold" text-anchor="middle">♀</text><rect x="1028.4" y="1256.2" width="8" height="8" fill="#fff" stroke="#111" stroke-width="1.5"/><rect x="1004.5" y="1266.4" width="8" height="8" fill="#fff" stroke="#111" stroke-width="1.5"/><text x="1003" y="1285.3" font-size="13.5px" font-family="DejaVu Sans, sans-serif" font-weight="bold" text-anchor="middle">♀</text><rect x="1010.5" y="1276.5" width="8" height="8" fill="#fff" stroke="#111" stroke-width="1.5"/><text x="1034.5" y="1295.5" font-size="13.5px" font-family="DejaVu Sans, sans-serif" font-weight="bold" text-anchor="middle">♀</text><rect x="1040.3" y="1286.7" width="8" height="8" fill="#fff" stroke="#111" stroke-width="1.5"/><rect x="1031.5" y="1296.9" width="8" height="8" fill="#fff" stroke="#111" stroke-width="1.5"/><text x="1046" y="1315.9" font-size="13.5px" font-family="DejaVu Sans, sans-serif" font-weight="bold" text-anchor="middle">♂</text><rect x="1056.7" y="1307.1" width="8" height="8" fill="#fff" stroke="#111" stroke-width="1.5"/><text x="1041.8" y="1326.1" font-size="13.5px" font-family="DejaVu Sans, sans-serif" font-weight="bold" text-anchor="middle">♀</text><rect x="1054.5" y="1317.3" width="8" height="8" fill="#fff" stroke="#111" stroke-width="1.5"/><rect x="1031.5" y="1327.4" width="8" height="8" fill="#fff" stroke="#111" stroke-width="1.5"/><rect x="1040.3" y="1337.6" width="8" height="8" fill="#fff" stroke="#111" stroke-width="1.5"/><rect x="1042" y="1347.8" width="8" height="8" fill="#fff" stroke="#111" stroke-width="1.5"/><text x="1077.5" y="1366.8" font-size="13.5px" font-family="DejaVu Sans, sans-serif" font-weight="bold" text-anchor="middle">♀</text><rect x="1086" y="1358" width="8" height="8" fill="#fff" stroke="#111" stroke-width="1.5"/><rect x="1093" y="1368.2" width="8" height="8" fill="#fff" stroke="#111" stroke-width="1.5"/><text x="1097.5" y="1387.1" font-size="13.5px" font-family="DejaVu Sans, sans-serif" font-weight="bold" text-anchor="middle">♂</text><rect x="1110.3" y="1378.3" width="8" height="8" fill="#fff" stroke="#111" stroke-width="1.5"/><rect x="1139.5" y="1388.5" width="8" height="8" fill="#fff" stroke="#111" stroke-width="1.5"/><circle cx="1089.8" cy="1402.7" r="4.6" fill="#050505"/><circle cx="1081.8" cy="1412.9" r="4.6" fill="#050505"/><circle cx="1053" cy="1423.1" r="4.6" fill="#050505"/><circle cx="1100.3" cy="1433.2" r="4.4" fill="#d42b2b" stroke="#3a0505" stroke-width="1.1"/><circle cx="1073.6" cy="1443.4" r="4.4" fill="#d42b2b" stroke="#3a0505" stroke-width="1.1"/><circle cx="1104.1" cy="1453.6" r="4.4" fill="#d42b2b" stroke="#3a0505" stroke-width="1.1"/><circle cx="1128.7" cy="1463.8" r="4.6" fill="#050505"/><circle cx="1098.2" cy="1474" r="4.6" fill="#050505"/><circle cx="1092.3" cy="1484.1" r="4.6" fill="#050505"/><circle cx="1118.6" cy="1494.3" r="4.6" fill="#050505"/><rect x="1072.1" y="1500.5" width="8" height="8" fill="#fff" stroke="#111" stroke-width="1.5"/><rect x="1021.1" y="1510.7" width="8" height="8" fill="#fff" stroke="#111" stroke-width="1.5"/><circle cx="1083.7" cy="1524.9" r="4.6" fill="#050505"/><circle cx="1088.1" cy="1535" r="4.6" fill="#050505"/><circle cx="1096.5" cy="1545.2" r="4.6" fill="#050505"/><circle cx="1307.4" cy="1555.4" r="4.6" fill="#050505"/><circle cx="1139.3" cy="1565.6" r="4.6" fill="#050505"/><circle cx="1098.2" cy="1575.8" r="4.6" fill="#050505"/><circle cx="1113.5" cy="1585.9" r="4.6" fill="#050505"/><circle cx="1108" cy="1596.1" r="4.6" fill="#050505"/><rect x="1087.3" y="1602.3" width="8" height="8" fill="#fff" stroke="#111" stroke-width="1.5"/><text x="1103.2" y="1621.3" font-size="13.5px" font-family="DejaVu Sans, sans-serif" font-weight="bold" text-anchor="middle">♀</text><rect x="1108.5" y="1612.5" width="8" height="8" fill="#fff" stroke="#111" stroke-width="1.5"/><circle cx="1121.3" cy="1626.7" r="4.6" fill="#050505"/><circle cx="1102.8" cy="1636.8" r="4.6" fill="#050505"/><circle cx="1123" cy="1647" r="4.6" fill="#050505"/><circle cx="1087" cy="1657.2" r="4.6" fill="#050505"/><circle cx="1155.8" cy="1667.4" r="4.6" fill="#050505"/><circle cx="1137" cy="1677.6" r="4.6" fill="#050505"/><circle cx="1160.5" cy="1687.7" r="4.6" fill="#050505"/><text x="1193.5" y="1702.7" font-size="13.5px" font-family="DejaVu Sans, sans-serif" font-weight="bold" text-anchor="middle">♀</text><circle cx="1204.5" cy="1697.9" r="4.6" fill="#050505"/><circle cx="1176.6" cy="1708.1" r="4.6" fill="#050505"/><circle cx="1173" cy="1718.3" r="4.6" fill="#050505"/><circle cx="1200.2" cy="1728.5" r="4.6" fill="#050505"/><rect x="1063" y="1744.8" width="8" height="8" fill="#fff" stroke="#111" stroke-width="1.5"/><circle cx="1204" cy="1759" r="4.6" fill="#050505"/><circle cx="1218.2" cy="1769.2" r="4.6" fill="#050505"/><circle cx="1156.1" cy="1779.4" r="4.6" fill="#050505"/><circle cx="1125.5" cy="1789.5" r="4.6" fill="#050505"/><circle cx="1202.9" cy="1799.7" r="4.6" fill="#050505"/><circle cx="1099.6" cy="1809.9" r="4.6" fill="#050505"/><circle cx="1108" cy="1820.1" r="4.6" fill="#050505"/><rect x="1087.3" y="1826.3" width="8" height="8" fill="#fff" stroke="#111" stroke-width="1.5"/><circle cx="1221.5" cy="1840.4" r="4.6" fill="#050505"/><circle cx="1108.8" cy="1850.6" r="4.6" fill="#050505"/><circle cx="1115.8" cy="1860.8" r="4.6" fill="#050505"/><circle cx="1204.3" cy="1871" r="4.6" fill="#050505"/><circle cx="1427" cy="1881.2" r="4.6" fill="#050505"/><circle cx="1137.2" cy="1891.3" r="4.6" fill="#050505"/><circle cx="1156.1" cy="1901.5" r="4.6" fill="#050505"/><circle cx="1134.4" cy="1911.7" r="4.6" fill="#050505"/><circle cx="1122.2" cy="1921.9" r="4.6" fill="#050505"/><circle cx="1105.2" cy="1932.1" r="4.6" fill="#050505"/><circle cx="1100.4" cy="1942.2" r="4.4" fill="#d42b2b" stroke="#3a0505" stroke-width="1.1"/><rect x="1108.1" y="1948.4" width="8" height="8" fill="#fff" stroke="#111" stroke-width="1.5"/><rect x="1079.2" y="1958.6" width="8" height="8" fill="#fff" stroke="#111" stroke-width="1.5"/><rect x="1134.9" y="1968.8" width="8" height="8" fill="#fff" stroke="#111" stroke-width="1.5"/><rect x="1089.5" y="1979" width="8" height="8" fill="#fff" stroke="#111" stroke-width="1.5"/><rect x="1092.8" y="1989.1" width="8" height="8" fill="#fff" stroke="#111" stroke-width="1.5"/></g>
<text x="1729.3" y="151.8" text-anchor="end" font-style="oblique" font-family="DejaVu Sans, sans-serif" font-weight="bold" font-size="27.7px" fill="#000">Stenamma</text>
<text x="1728" y="528.9" text-anchor="end" font-style="oblique" font-family="DejaVu Sans, sans-serif" font-weight="bold" font-size="27.7px" fill="#000">Veromessor</text>
<text x="1728" y="698.7" text-anchor="end" font-style="oblique" font-family="DejaVu Sans, sans-serif" font-weight="bold" font-size="27.7px" fill="#000">Novomessor</text>
<text x="1728" y="739.9" text-anchor="end" font-family="DejaVu Sans, sans-serif" font-weight="bold" font-size="27.7px" fill="#000">Tropical <tspan font-style="oblique">Aphaenogaster</tspan></text>
<text x="1728" y="774.6" text-anchor="end" font-family="DejaVu Sans, sans-serif" font-weight="bold" font-size="27.7px" fill="#000">(Deromyrma)</text>
<text x="1729" y="853.9" text-anchor="end" font-style="oblique" font-family="DejaVu Sans, sans-serif" font-weight="bold" font-size="27.7px" fill="#000">Goniomma &amp; Oxyopomyrmex</text>
<text x="1729" y="939.3" text-anchor="end" font-family="DejaVu Sans, sans-serif" font-weight="bold" font-size="27.7px" fill="#000">Holarctic <tspan font-style="oblique">Aphaenogaster</tspan></text>
<text x="1729" y="1119.3" text-anchor="end" font-style="oblique" font-family="DejaVu Sans, sans-serif" font-weight="bold" font-size="27.7px" fill="#000">Messor</text>
<text x="1520.5" y="1118.5" font-family="DejaVu Sans, sans-serif" font-weight="bold" font-style="oblique" font-size="18.4px" fill="#000" text-anchor="middle">rufotestaceus</text>
<text x="1520.5" y="1149.7" font-family="DejaVu Sans, sans-serif" font-weight="bold" font-style="oblique" font-size="18.4px" fill="#000" text-anchor="middle">aciculatus</text>
<text x="1520.5" y="1169.9" font-family="DejaVu Sans, sans-serif" font-weight="bold" font-style="oblique" font-size="18.4px" fill="#000" text-anchor="middle">excursionis</text>
<text x="1520.5" y="1257.3" font-family="DejaVu Sans, sans-serif" font-weight="bold" font-style="oblique" font-size="18.4px" fill="#000" text-anchor="middle">structor</text>
<text x="1520.5" y="1374.5" font-family="DejaVu Sans, sans-serif" font-weight="bold" font-style="oblique" font-size="18.4px" fill="#000" text-anchor="middle">barbarus</text>
<text x="1520.5" y="1448.6" font-family="DejaVu Sans, sans-serif" font-weight="bold" font-style="oblique" font-size="18.4px" fill="#000" text-anchor="middle">capensis</text>
<text x="1520.5" y="1516.5" font-family="DejaVu Sans, sans-serif" font-weight="bold" font-style="oblique" font-size="18.4px" fill="#000" text-anchor="middle">arenarius</text>
<text x="1520.5" y="1557.8" font-family="DejaVu Sans, sans-serif" font-weight="bold" font-style="oblique" font-size="18.4px" fill="#000" text-anchor="middle">striativentris</text>
<text x="1520.5" y="1655.3" font-family="DejaVu Sans, sans-serif" font-weight="bold" font-style="oblique" font-size="18.4px" fill="#000" text-anchor="middle">instabilis</text>
<text x="1520.5" y="1866.9" font-family="DejaVu Sans, sans-serif" font-weight="bold" font-style="oblique" font-size="18.4px" fill="#000" text-anchor="middle">aegyptiacus</text>
<rect x="213.2" y="1576.6" width="240.9" height="36.4" fill="#9f80b6"/>
<text x="333.6" y="1601.1" font-family="DejaVu Sans, sans-serif" font-weight="bold" font-style="oblique" font-size="18.4px" fill="#2b2b2b" text-anchor="middle">rufotestaceus</text>
<rect x="213.2" y="1630.2" width="240.9" height="36.4" fill="#f5a25a"/>
<text x="333.6" y="1654.7" font-family="DejaVu Sans, sans-serif" font-weight="bold" font-style="oblique" font-size="18.4px" fill="#2b2b2b" text-anchor="middle">lobicornis</text>
<rect x="213.2" y="1683.8" width="240.9" height="36.4" fill="#b9d980"/>
<text x="333.6" y="1708.3" font-family="DejaVu Sans, sans-serif" font-weight="bold" font-style="oblique" font-size="18.4px" fill="#2b2b2b" text-anchor="middle">structor</text>
<rect x="213.2" y="1737.4" width="240.9" height="36.4" fill="#4db9dc"/>
<text x="333.6" y="1761.9" font-family="DejaVu Sans, sans-serif" font-weight="bold" font-style="oblique" font-size="18.4px" fill="#2b2b2b" text-anchor="middle">barbarus</text>
<rect x="213.2" y="1791" width="240.9" height="36.4" fill="#5fc2a1"/>
<text x="333.6" y="1815.5" font-family="DejaVu Sans, sans-serif" font-weight="bold" font-style="oblique" font-size="18.4px" fill="#2b2b2b" text-anchor="middle">arenarius</text>
<rect x="213.2" y="1844.6" width="240.9" height="36.4" fill="#ea8565"/>
<text x="333.6" y="1869.1" font-family="DejaVu Sans, sans-serif" font-weight="bold" font-style="oblique" font-size="18.4px" fill="#2b2b2b" text-anchor="middle">instabilis</text>
<rect x="213.2" y="1898.2" width="240.9" height="36.4" fill="#b3b5b7"/>
<text x="333.6" y="1922.7" font-family="DejaVu Sans, sans-serif" font-weight="bold" font-style="oblique" font-size="18.4px" fill="#2b2b2b" text-anchor="middle">minor - medioruber</text>
<text x="148" y="1982.8" font-family="DejaVu Sans, sans-serif" font-weight="bold" font-size="27.4px" fill="#000"><tspan font-style="oblique">Messor</tspan> historical groups</text>
<rect x="626.6" y="1961.7" width="201.2" height="6" fill="#000"/>
<text x="727.2" y="1983.2" font-family="DejaVu Sans, sans-serif" font-weight="bold" font-size="14.7px" fill="#000" text-anchor="middle">0.03</text>
<g transform="translate(1740 112) scale(0.11502)"><path d="M330 350 L300 480 L262 560 L255 700 L280 770" stroke="#86664c" stroke-width="29" fill="none" stroke-linecap="round" stroke-linejoin="round"/><path d="M800 250 L660 620 L700 850" stroke="#2c2e31" stroke-width="36" fill="none" stroke-linecap="round" stroke-linejoin="round"/><path d="M700 850 L900 965" stroke="#9a7a60" stroke-width="17" fill="none" stroke-linecap="round" stroke-linejoin="round"/><path d="M920 320 L760 620 L850 900" stroke="#4a4d51" stroke-width="29" fill="none" stroke-linecap="round" stroke-linejoin="round"/><path d="M960 350 L830 600 L980 970" stroke="#5a5c60" stroke-width="15" fill="none" stroke-linecap="round" stroke-linejoin="round"/><path d="M1060 330 L1080 600" stroke="#3c3f43" stroke-width="31" fill="none" stroke-linecap="round" stroke-linejoin="round"/><path d="M1080 600 L1100 920" stroke="#6a6a6a" stroke-width="14" fill="none" stroke-linecap="round" stroke-linejoin="round"/><path d="M1230 330 L1560 390 L1600 650" stroke="#4a3a34" stroke-width="26" fill="none" stroke-linecap="round" stroke-linejoin="round"/><path d="M1600 650 L1420 970" stroke="#8a6a50" stroke-width="12" fill="none" stroke-linecap="round" stroke-linejoin="round"/><path d="M250 320 C260 230 330 150 420 90 C480 55 550 60 600 110 C635 160 635 250 590 300 C530 350 450 380 380 400 C350 450 330 510 310 530 C290 480 265 430 255 380 Z" fill="#3c4146"/><path d="M620 150 C660 100 720 70 800 70 C880 72 940 110 990 150 L1140 160 L1165 230 L1200 255 L1180 300 L1060 330 L950 315 L860 265 L760 230 L650 200 Z" fill="#303438"/><path d="M1180 255 L1250 170 L1255 100 L1330 85 L1360 120 L1420 80 L1490 70 L1510 125 L1450 160 L1360 175 L1280 240 L1230 265 Z" fill="#383c40"/><path d="M1420 200 C1450 150 1530 130 1600 150 C1690 190 1735 290 1730 400 C1725 470 1680 515 1600 520 C1520 515 1450 450 1420 360 Z" fill="#3a3e43"/><path d="M1430 220 C1440 300 1480 380 1560 400 L1600 330 C1540 300 1500 250 1480 200 Z" fill="#15171a"/><path d="M780 240 C830 230 880 260 900 310 L860 330 C820 300 790 280 780 240 Z" fill="#15171a"/><ellipse cx="800" cy="160" rx="50" ry="40" fill="#6a7075" fill-opacity="0.6"/><ellipse cx="410" cy="300" rx="35" ry="25" fill="#9aa0a5" transform="rotate(-20 410 300)" fill-opacity="0.7"/></g><g transform="translate(1740 232) scale(0.11502)"><path d="M360 440 L400 700 L450 900" stroke="#b99454" stroke-width="41" fill="none" stroke-linecap="round" stroke-linejoin="round"/><path d="M400 600 L520 820" stroke="#c4a262" stroke-width="32" fill="none" stroke-linecap="round" stroke-linejoin="round"/><path d="M700 260 L750 430 L760 630" stroke="#dccb8c" stroke-width="34" fill="none" stroke-linecap="round" stroke-linejoin="round"/><path d="M760 580 L940 620" stroke="#d8c888" stroke-width="22" fill="none" stroke-linecap="round" stroke-linejoin="round"/><path d="M850 330 L520 560 L650 790 L1020 740" stroke="#e2d396" stroke-width="49" fill="none" stroke-linecap="round" stroke-linejoin="round"/><path d="M1150 300 L1220 580 L1140 750" stroke="#e0d090" stroke-width="32" fill="none" stroke-linecap="round" stroke-linejoin="round"/><path d="M1620 580 L1670 750" stroke="#d8c890" stroke-width="29" fill="none" stroke-linecap="round" stroke-linejoin="round"/><path d="M230 430 C220 300 260 170 350 130 C430 100 520 120 560 170 C580 250 560 380 500 450 C460 490 420 520 380 510 L330 560 C280 520 240 480 230 430 Z" fill="#a67d3a"/><path d="M540 150 C580 80 700 50 800 70 C900 100 1000 130 1060 160 L1100 230 C1100 290 1050 300 980 310 L900 320 C820 300 750 260 690 240 L560 220 Z" fill="#ad8644"/><path d="M1100 230 L1160 100 L1250 90 C1300 70 1360 90 1380 130 L1300 160 L1230 180 L1130 300 L1070 290 Z" fill="#a27c42"/><ellipse cx="1540" cy="350" rx="190" ry="255" fill="#cbb06c" transform="rotate(-35 1540 350)"/><ellipse cx="1560" cy="360" rx="50" ry="120" fill="#a88848" transform="rotate(-35 1560 360)" fill-opacity="0.5"/></g><g transform="translate(1740 347) scale(0.11502)"><path d="M440 170 L300 300 L200 420 L110 540" stroke="#d2a472" stroke-width="80" fill="none" stroke-linecap="round" stroke-linejoin="round"/><path d="M250 330 L140 560" stroke="#d8b080" stroke-width="51" fill="none" stroke-linecap="round" stroke-linejoin="round"/><path d="M800 280 L900 380" stroke="#c88a50" stroke-width="90" fill="none" stroke-linecap="round" stroke-linejoin="round"/><path d="M900 400 L780 480 L720 700 L710 940" stroke="#d8aa6a" stroke-width="41" fill="none" stroke-linecap="round" stroke-linejoin="round"/><path d="M920 400 L940 600 L1070 800" stroke="#d6a868" stroke-width="29" fill="none" stroke-linecap="round" stroke-linejoin="round"/><path d="M1150 350 L1240 420 L1240 650 L1200 860" stroke="#d4a464" stroke-width="34" fill="none" stroke-linecap="round" stroke-linejoin="round"/><path d="M300 400 C290 300 330 200 420 130 C480 90 560 80 620 110 C670 150 680 250 650 340 C610 420 540 460 460 470 C440 520 440 600 430 660 C400 670 360 630 350 560 C350 500 330 460 300 400 Z" fill="#b66a38"/><path d="M650 150 C700 80 800 50 880 60 C940 80 1000 130 1060 150 L1140 160 L1130 220 L1180 260 C1200 300 1180 330 1120 330 L1000 320 L900 280 L800 260 L700 230 Z" fill="#ba7040"/><path d="M1160 260 L1280 200 L1340 195 L1370 230 L1420 250 L1480 270 L1500 310 L1460 340 L1400 330 L1340 280 L1240 290 Z" fill="#b87040"/><ellipse cx="1540" cy="590" rx="160" ry="270" fill="#bc8650" transform="rotate(-15 1540 590)"/><ellipse cx="1500" cy="520" rx="90" ry="150" fill="#9a6a40" transform="rotate(-15 1500 520)" fill-opacity="0.45"/></g><g transform="translate(1740 465) scale(0.11502)"><path d="M300 200 L180 300 L150 400 L240 530" stroke="#b06850" stroke-width="41" fill="none" stroke-linecap="round" stroke-linejoin="round"/><path d="M330 330 L470 490" stroke="#b87058" stroke-width="32" fill="none" stroke-linecap="round" stroke-linejoin="round"/><path d="M740 300 L830 370" stroke="#b45e42" stroke-width="80" fill="none" stroke-linecap="round" stroke-linejoin="round"/><path d="M700 360 L560 370 L460 620 L560 800" stroke="#ba6a52" stroke-width="34" fill="none" stroke-linecap="round" stroke-linejoin="round"/><path d="M620 380 L560 650 L400 920" stroke="#c07a62" stroke-width="26" fill="none" stroke-linecap="round" stroke-linejoin="round"/><path d="M860 420 L680 680 L800 900 L880 950" stroke="#ba6a52" stroke-width="38" fill="none" stroke-linecap="round" stroke-linejoin="round"/><path d="M1130 390 L1220 430 L1180 740 L950 920" stroke="#b86a52" stroke-width="32" fill="none" stroke-linecap="round" stroke-linejoin="round"/><path d="M1230 220 L1370 120 L1470 230" stroke="#b46650" stroke-width="34" fill="none" stroke-linecap="round" stroke-linejoin="round"/><path d="M1460 570 L1380 850" stroke="#c08070" stroke-width="19" fill="none" stroke-linecap="round" stroke-linejoin="round"/><path d="M270 330 C260 230 320 140 420 100 C500 75 580 100 610 160 C620 250 590 330 530 390 C480 420 440 450 430 520 C400 530 350 510 330 450 C300 420 275 380 270 330 Z" fill="#b05a40"/><ellipse cx="420" cy="260" rx="40" ry="35" fill="#4a4a52"/><path d="M610 160 C640 90 720 75 800 90 C860 110 900 150 950 170 L1090 170 L1130 200 L1110 260 L1150 290 L1130 350 L1000 380 L880 360 L780 300 L720 250 L640 210 Z" fill="#b45e42"/><path d="M1140 270 L1220 200 L1270 190 L1300 230 L1350 215 L1410 240 L1420 290 L1370 310 L1300 280 L1250 280 L1170 310 Z" fill="#a85640"/><ellipse cx="1520" cy="430" rx="165" ry="170" fill="#b4664a" transform="rotate(-30 1520 430)"/><ellipse cx="1540" cy="460" rx="60" ry="50" fill="#c88060" fill-opacity="0.5"/></g><g transform="translate(1740 583) scale(0.11502)"><path d="M360 420 L250 480 L150 600 L170 760" stroke="#8a6058" stroke-width="34" fill="none" stroke-linecap="round" stroke-linejoin="round"/><path d="M380 420 L380 620" stroke="#7a4c44" stroke-width="29" fill="none" stroke-linecap="round" stroke-linejoin="round"/><path d="M850 300 L900 420" stroke="#7a4a40" stroke-width="90" fill="none" stroke-linecap="round" stroke-linejoin="round"/><path d="M880 400 L760 600 L640 820" stroke="#7e5446" stroke-width="42" fill="none" stroke-linecap="round" stroke-linejoin="round"/><path d="M900 420 L770 650 L760 820" stroke="#845a4c" stroke-width="34" fill="none" stroke-linecap="round" stroke-linejoin="round"/><path d="M820 600 L850 820" stroke="#7e5446" stroke-width="26" fill="none" stroke-linecap="round" stroke-linejoin="round"/><path d="M1020 400 L1080 600 L1110 820" stroke="#7a5044" stroke-width="34" fill="none" stroke-linecap="round" stroke-linejoin="round"/><path d="M1180 400 L1620 730 L1520 820" stroke="#7e5446" stroke-width="38" fill="none" stroke-linecap="round" stroke-linejoin="round"/><path d="M1240 420 L1360 440" stroke="#6a4438" stroke-width="51" fill="none" stroke-linecap="round" stroke-linejoin="round"/><path d="M1580 660 L1580 820" stroke="#7e5446" stroke-width="26" fill="none" stroke-linecap="round" stroke-linejoin="round"/><path d="M310 320 C310 200 360 110 440 80 C510 65 570 100 590 150 C600 230 570 330 520 400 C490 450 470 500 460 530 L400 520 C380 480 360 420 330 380 Z" fill="#7a4a40"/><ellipse cx="420" cy="270" rx="30" ry="40" fill="#b0b0b0"/><path d="M590 120 C630 70 700 55 760 70 C800 90 830 130 880 160 L1000 180 C1060 160 1130 150 1230 140 L1140 200 L1130 260 L1160 320 L1120 380 L1000 390 L900 380 L830 300 L740 240 L650 180 Z" fill="#8a5444"/><path d="M1150 270 L1230 220 L1280 210 L1320 250 L1400 250 L1440 300 L1400 340 L1320 300 L1250 300 L1180 320 Z" fill="#80503f"/><ellipse cx="1560" cy="450" rx="160" ry="190" fill="#5e3e3e" transform="rotate(-20 1560 450)"/><ellipse cx="1540" cy="430" rx="80" ry="90" fill="#4a2e30" fill-opacity="0.5"/></g><g transform="translate(1740 688) scale(0.11502)"><path d="M140 40 L150 300 L280 480" stroke="#a86050" stroke-width="34" fill="none" stroke-linecap="round" stroke-linejoin="round"/><path d="M230 50 L230 300 L300 470" stroke="#a86050" stroke-width="34" fill="none" stroke-linecap="round" stroke-linejoin="round"/><path d="M180 200 L250 470" stroke="#a86050" stroke-width="21" fill="none" stroke-linecap="round" stroke-linejoin="round"/><path d="M760 300 L960 450 L780 800 L800 850 L1230 830 L1390 680" stroke="#a85a48" stroke-width="36" fill="none" stroke-linecap="round" stroke-linejoin="round"/><path d="M1040 380 L1040 500 L920 690 L980 980" stroke="#a85a48" stroke-width="34" fill="none" stroke-linecap="round" stroke-linejoin="round"/><path d="M1250 400 L1860 400" stroke="#a85a48" stroke-width="32" fill="none" stroke-linecap="round" stroke-linejoin="round"/><path d="M1280 430 L1860 490" stroke="#a85a48" stroke-width="32" fill="none" stroke-linecap="round" stroke-linejoin="round"/><path d="M1860 620 L1330 980" stroke="#a85a48" stroke-width="27" fill="none" stroke-linecap="round" stroke-linejoin="round"/><path d="M480 420 L640 415" stroke="#b8a090" stroke-width="10" fill="none" stroke-linecap="round" stroke-linejoin="round"/><path d="M260 440 C270 360 330 300 400 270 C440 250 480 220 500 190 L530 240 C520 300 530 400 500 470 C470 520 430 540 400 550 C380 580 400 620 440 640 L380 620 C350 590 330 560 300 530 C270 500 255 470 260 440 Z" fill="#b0583f"/><path d="M510 190 C580 150 680 130 760 150 C830 170 880 200 930 240 L1000 260 L1180 250 L1200 320 L1180 360 L1080 380 L1000 370 L940 340 L820 290 L730 260 L560 240 Z" fill="#a8503c"/><path d="M1200 320 L1300 270 L1360 270 L1400 320 L1500 340 L1540 380 L1500 420 L1420 410 L1360 340 L1220 360 Z" fill="#a05040"/><ellipse cx="1560" cy="670" rx="170" ry="190" fill="#3a3246" transform="rotate(-10 1560 670)"/><ellipse cx="1560" cy="620" rx="60" ry="100" fill="#111" fill-opacity="0.6"/></g><g transform="translate(1740 808) scale(0.11502)"><path d="M400 230 L360 100 L250 130 L110 280 L100 450" stroke="#9a9690" stroke-width="30" fill="none" stroke-linecap="round" stroke-linejoin="round"/><path d="M840 320 L880 440" stroke="#6a7078" stroke-width="60" fill="none" stroke-linecap="round" stroke-linejoin="round"/><path d="M870 440 L600 480 L580 560 L700 700 L900 830" stroke="#8a8a88" stroke-width="30" fill="none" stroke-linecap="round" stroke-linejoin="round"/><path d="M1000 360 L1300 560 L1180 740 L940 690" stroke="#8a8884" stroke-width="26" fill="none" stroke-linecap="round" stroke-linejoin="round"/><path d="M1100 360 L1530 530 L1380 780 L930 820" stroke="#8e8a84" stroke-width="26" fill="none" stroke-linecap="round" stroke-linejoin="round"/><path d="M1050 370 L1340 540 L1280 700" stroke="#8a8884" stroke-width="19" fill="none" stroke-linecap="round" stroke-linejoin="round"/><path d="M400 250 C420 160 490 100 580 85 C660 80 710 130 720 200 C720 260 680 310 600 340 C520 360 460 360 420 380 C400 420 390 450 380 460 C360 420 370 370 390 330 Z" fill="#2c3034"/><ellipse cx="580" cy="250" rx="110" ry="70" fill="#8a9095" fill-opacity="0.55"/><path d="M720 200 C760 150 820 135 880 150 C920 170 950 200 990 210 L1120 210 L1110 260 L1130 320 L1080 350 L980 350 L900 330 L820 290 L760 260 Z" fill="#505660"/><ellipse cx="820" cy="230" rx="50" ry="60" fill="#9aa0a8" fill-opacity="0.6"/><path d="M1130 300 L1160 190 L1210 180 L1250 210 L1270 180 L1320 175 L1350 200 L1350 240 L1300 250 L1250 240 L1180 300 Z" fill="#4a5058"/><ellipse cx="1520" cy="270" rx="170" ry="110" fill="#24272a" transform="rotate(5 1520 270)"/><ellipse cx="1500" cy="265" rx="90" ry="45" fill="#c0c4c4" fill-opacity="0.7"/><ellipse cx="1510" cy="265" rx="30" ry="14" fill="#111"/></g><g transform="translate(1740 922) scale(0.11502)"><path d="M360 290 L260 380 L230 530" stroke="#c0703c" stroke-width="38" fill="none" stroke-linecap="round" stroke-linejoin="round"/><path d="M320 300 L250 450" stroke="#c0703c" stroke-width="26" fill="none" stroke-linecap="round" stroke-linejoin="round"/><path d="M860 360 L600 380 L560 420 L580 600 L700 740" stroke="#cc8850" stroke-width="34" fill="none" stroke-linecap="round" stroke-linejoin="round"/><path d="M620 270 L580 300 L600 580 L730 700" stroke="#cc8850" stroke-width="24" fill="none" stroke-linecap="round" stroke-linejoin="round"/><path d="M980 380 L1180 440 L1200 700 L930 880" stroke="#cc8850" stroke-width="34" fill="none" stroke-linecap="round" stroke-linejoin="round"/><path d="M1100 400 L1440 460 L1380 760 L1010 1030" stroke="#cc8850" stroke-width="34" fill="none" stroke-linecap="round" stroke-linejoin="round"/><path d="M300 230 C320 140 400 70 480 55 C560 50 610 100 615 160 C610 230 560 280 480 300 C420 320 380 330 350 320 Z" fill="#bb6638"/><ellipse cx="440" cy="180" rx="25" ry="20" fill="#a08888"/><path d="M610 150 C640 80 700 55 770 60 C840 70 880 130 900 180 L1000 185 L1060 230 L1060 290 L1080 320 L1040 360 L960 360 L870 320 L780 280 L700 240 L640 200 Z" fill="#c06a3c"/><path d="M1060 320 L1090 180 L1140 160 L1180 200 L1190 140 L1240 125 L1280 150 L1290 210 L1230 230 L1170 240 L1100 320 Z" fill="#b46238"/><ellipse cx="1510" cy="300" rx="230" ry="180" fill="#9a5038" transform="rotate(28 1510 300)"/><ellipse cx="1470" cy="250" rx="60" ry="40" fill="#7a3028" fill-opacity="0.6"/></g><g transform="translate(1740 1040) scale(0.11502)"><path d="M720 300 L750 420" stroke="#d49a38" stroke-width="110" fill="none" stroke-linecap="round" stroke-linejoin="round"/><path d="M760 440 L450 680 L410 900" stroke="#d49a38" stroke-width="51" fill="none" stroke-linecap="round" stroke-linejoin="round"/><path d="M720 500 L540 660 L550 910" stroke="#d09434" stroke-width="34" fill="none" stroke-linecap="round" stroke-linejoin="round"/><path d="M900 400 L1000 430 L1150 440 L1220 560 L1400 880" stroke="#d49a38" stroke-width="32" fill="none" stroke-linecap="round" stroke-linejoin="round"/><path d="M1000 440 L1250 420 L1480 430 L1600 600 L1840 910" stroke="#d49a38" stroke-width="34" fill="none" stroke-linecap="round" stroke-linejoin="round"/><path d="M1620 600 L1860 860" stroke="#d49a38" stroke-width="17" fill="none" stroke-linecap="round" stroke-linejoin="round"/><path d="M270 400 C260 300 300 180 380 130 C460 110 540 140 570 200 C580 280 560 380 500 440 C460 480 420 500 400 520 L410 580 L380 590 C340 540 300 480 280 450 Z" fill="#5e2220"/><ellipse cx="390" cy="330" rx="30" ry="35" fill="#4a5060"/><path d="M400 80 L330 200 L290 380" stroke="#7a3a30" stroke-width="51" fill="none" stroke-linecap="round" stroke-linejoin="round"/><path d="M420 280 L630 320" stroke="#c08850" stroke-width="34" fill="none" stroke-linecap="round" stroke-linejoin="round"/><path d="M560 170 C600 110 680 90 760 110 C820 130 850 190 880 230 L960 240 L1040 270 L1060 320 L1030 380 L930 390 L830 360 L760 300 L660 260 L580 230 Z" fill="#7a3428"/><ellipse cx="700" cy="160" rx="90" ry="50" fill="#a05040" fill-opacity="0.6"/><path d="M1050 320 L1050 210 L1100 200 L1140 230 L1160 150 L1210 140 L1260 170 L1270 220 L1200 240 L1150 260 L1100 330 Z" fill="#5e2420"/><ellipse cx="1440" cy="300" rx="210" ry="150" fill="#6a2a22" transform="rotate(25 1440 300)"/><ellipse cx="1420" cy="260" rx="100" ry="50" fill="#8a4a40" fill-opacity="0.6"/></g><g transform="translate(1740 1150) scale(0.11502)"><path d="M520 160 L650 35 L680 170" stroke="#b09868" stroke-width="30" fill="none" stroke-linecap="round" stroke-linejoin="round"/><path d="M520 460 L620 500 L640 560" stroke="#b09868" stroke-width="26" fill="none" stroke-linecap="round" stroke-linejoin="round"/><path d="M850 300 L920 420" stroke="#c0a870" stroke-width="80" fill="none" stroke-linecap="round" stroke-linejoin="round"/><path d="M900 440 L620 560 L590 700 L610 900" stroke="#d6c498" stroke-width="32" fill="none" stroke-linecap="round" stroke-linejoin="round"/><path d="M930 450 L700 600 L790 780 L880 900" stroke="#d6c498" stroke-width="31" fill="none" stroke-linecap="round" stroke-linejoin="round"/><path d="M980 470 L800 500 L860 700 L980 900" stroke="#d0bc90" stroke-width="22" fill="none" stroke-linecap="round" stroke-linejoin="round"/><path d="M360 400 C370 300 420 220 500 180 C560 160 630 170 650 220 C660 290 640 370 590 430 C550 470 500 490 470 520 L450 570 C420 560 400 520 400 480 C370 450 360 430 360 400 Z" fill="#9a7a3e"/><ellipse cx="490" cy="300" rx="40" ry="45" fill="#1a2030"/><path d="M650 200 C690 160 750 140 820 150 C870 160 900 200 940 230 L1010 255 L1130 270 L1160 330 L1150 380 L1060 390 L960 380 L880 320 L780 290 L700 260 Z" fill="#a08248"/><path d="M1150 340 L1180 250 L1240 240 L1290 210 L1350 205 L1380 240 L1300 270 L1230 290 L1190 350 Z" fill="#9a7c44"/><ellipse cx="1500" cy="430" rx="150" ry="210" fill="#6a5232" transform="rotate(-20 1500 430)"/><ellipse cx="1470" cy="440" rx="60" ry="120" fill="#3a2a18" transform="rotate(-20 1470 440)" fill-opacity="0.4"/><path d="M1120 400 L1200 420 L1750 540 L1580 760 L1410 910" stroke="#d6c498" stroke-width="34" fill="none" stroke-linecap="round" stroke-linejoin="round"/><path d="M1640 620 L1470 900" stroke="#d6c498" stroke-width="21" fill="none" stroke-linecap="round" stroke-linejoin="round"/></g><g transform="translate(1740 1268) scale(0.11502)"><path d="M480 280 L330 65 L20 400" stroke="#b08878" stroke-width="19" fill="none" stroke-linecap="round" stroke-linejoin="round"/><path d="M460 250 L370 180 L100 500" stroke="#b08878" stroke-width="19" fill="none" stroke-linecap="round" stroke-linejoin="round"/><path d="M880 420 L900 480" stroke="#5a3a38" stroke-width="90" fill="none" stroke-linecap="round" stroke-linejoin="round"/><path d="M900 480 L600 600 L800 760 L1000 560" stroke="#b08a78" stroke-width="34" fill="none" stroke-linecap="round" stroke-linejoin="round"/><path d="M1050 480 L1120 520" stroke="#3a3c40" stroke-width="80" fill="none" stroke-linecap="round" stroke-linejoin="round"/><path d="M1150 520 L1470 650 L1280 830 L840 790" stroke="#b08a78" stroke-width="32" fill="none" stroke-linecap="round" stroke-linejoin="round"/><path d="M1250 520 L1740 600 L1550 920 L930 930" stroke="#b08a78" stroke-width="32" fill="none" stroke-linecap="round" stroke-linejoin="round"/><path d="M830 730 L1050 650" stroke="#b08a78" stroke-width="17" fill="none" stroke-linecap="round" stroke-linejoin="round"/><path d="M490 380 C480 260 520 150 600 100 C680 70 760 110 780 180 C790 260 760 350 700 400 C650 430 580 440 540 450 L520 500 C500 480 490 430 490 380 Z" fill="#c8704e"/><ellipse cx="600" cy="285" rx="30" ry="30" fill="#4a4040"/><path d="M780 180 C820 140 880 130 940 150 C980 170 1000 200 1020 240 L1100 280 L1200 320 L1210 400 L1230 470 L1150 520 L1050 510 L980 440 L900 400 L860 300 L800 240 Z" fill="#6e4440"/><path d="M1210 420 L1250 320 L1300 330 L1340 290 L1390 300 L1420 330 L1410 380 L1340 390 L1270 420 L1230 440 Z" fill="#3a3a3e"/><ellipse cx="1610" cy="350" rx="200" ry="150" fill="#2e3034" transform="rotate(8 1610 350)"/><ellipse cx="1590" cy="360" rx="110" ry="70" fill="#8a9498" fill-opacity="0.6"/></g><g transform="translate(1740 1386) scale(0.11502)"><path d="M340 320 L120 280 L30 550 L60 680 L200 800" stroke="#4a4c50" stroke-width="30" fill="none" stroke-linecap="round" stroke-linejoin="round"/><path d="M880 320 L960 420" stroke="#3a3e42" stroke-width="100" fill="none" stroke-linecap="round" stroke-linejoin="round"/><path d="M940 440 L660 560 L900 700 L1140 520" stroke="#5a5a5e" stroke-width="38" fill="none" stroke-linecap="round" stroke-linejoin="round"/><path d="M1120 400 L1420 600 L1240 740 L960 810" stroke="#5a5658" stroke-width="38" fill="none" stroke-linecap="round" stroke-linejoin="round"/><path d="M1260 400 L1640 520 L1400 750 L850 1000" stroke="#60585a" stroke-width="34" fill="none" stroke-linecap="round" stroke-linejoin="round"/><path d="M880 660 L1150 580" stroke="#8a7060" stroke-width="17" fill="none" stroke-linecap="round" stroke-linejoin="round"/><path d="M330 350 C330 220 390 100 490 60 C580 40 660 70 700 140 C720 220 700 320 640 380 C580 430 500 450 430 450 L380 530 C340 520 330 460 330 420 Z" fill="#33373c"/><ellipse cx="490" cy="240" rx="60" ry="50" fill="#9aa0a8" fill-opacity="0.5"/><path d="M340 420 L420 420 L400 500 L370 530 Z" fill="#6a2a20"/><path d="M700 160 C740 100 810 75 880 90 C930 110 960 150 1000 180 L1130 190 L1160 270 L1190 310 L1220 360 L1150 400 L1050 400 L960 380 L900 320 L820 290 L740 240 Z" fill="#383c40"/><path d="M1190 320 L1250 200 L1300 210 L1330 160 L1380 170 L1400 220 L1390 260 L1320 270 L1260 300 L1220 330 Z" fill="#3a3e42"/><ellipse cx="1620" cy="290" rx="200" ry="170" fill="#26292d" transform="rotate(10 1620 290)"/><ellipse cx="1600" cy="260" rx="120" ry="70" fill="#a8b0b4" fill-opacity="0.6"/></g><g transform="translate(1740 1510) scale(0.11502)"><path d="M420 300 L320 260 L300 70 L20 330" stroke="#a89080" stroke-width="24" fill="none" stroke-linecap="round" stroke-linejoin="round"/><path d="M400 320 L270 210 L70 520" stroke="#8a7a70" stroke-width="24" fill="none" stroke-linecap="round" stroke-linejoin="round"/><path d="M880 340 L900 480" stroke="#42464c" stroke-width="100" fill="none" stroke-linecap="round" stroke-linejoin="round"/><path d="M880 500 L610 690 L800 820" stroke="#6a6e72" stroke-width="36" fill="none" stroke-linecap="round" stroke-linejoin="round"/><path d="M800 820 L1120 700" stroke="#d8b880" stroke-width="21" fill="none" stroke-linecap="round" stroke-linejoin="round"/><path d="M1100 480 L1400 720 L1180 870 L800 960" stroke="#6a6e72" stroke-width="34" fill="none" stroke-linecap="round" stroke-linejoin="round"/><path d="M1200 500 L1670 720 L1420 960 L900 1060" stroke="#6a6e72" stroke-width="32" fill="none" stroke-linecap="round" stroke-linejoin="round"/><path d="M1280 560 L1530 730 L1400 940 L930 1140" stroke="#7a7674" stroke-width="26" fill="none" stroke-linecap="round" stroke-linejoin="round"/><path d="M420 400 C410 260 470 120 570 80 C670 50 770 100 800 190 C810 280 760 360 680 410 C620 450 540 460 490 470 L480 540 C440 530 420 460 420 420 Z" fill="#4a2626"/><ellipse cx="620" cy="240" rx="100" ry="90" fill="#b0a8b0" fill-opacity="0.45"/><path d="M800 190 C840 150 900 130 960 140 C1010 160 1040 220 1060 280 L1150 300 L1200 350 L1210 430 L1250 480 L1180 520 L1080 500 L1020 430 L960 390 L880 340 L820 260 Z" fill="#42464c"/><ellipse cx="900" cy="230" rx="40" ry="80" fill="#9aa2aa" fill-opacity="0.5"/><path d="M1220 420 L1270 330 L1320 330 L1360 320 L1410 330 L1430 370 L1400 390 L1330 400 L1270 420 L1240 440 Z" fill="#3a3e42"/><ellipse cx="1610" cy="410" rx="190" ry="120" fill="#24272a" transform="rotate(10 1610 410)"/><ellipse cx="1600" cy="400" rx="100" ry="50" fill="#b0b8bc" fill-opacity="0.6"/></g><g transform="translate(1740 1648) scale(0.11502)"><path d="M390 300 L230 130 L40 400 L40 640" stroke="#9a9088" stroke-width="22" fill="none" stroke-linecap="round" stroke-linejoin="round"/><path d="M380 290 L230 270 L60 450" stroke="#9a9088" stroke-width="20" fill="none" stroke-linecap="round" stroke-linejoin="round"/><path d="M860 330 L900 480" stroke="#4e5258" stroke-width="110" fill="none" stroke-linecap="round" stroke-linejoin="round"/><path d="M900 500 L570 590 L720 800 L950 640" stroke="#8a8280" stroke-width="36" fill="none" stroke-linecap="round" stroke-linejoin="round"/><path d="M1120 420 L1440 660 L1230 760 L860 880" stroke="#8a8280" stroke-width="31" fill="none" stroke-linecap="round" stroke-linejoin="round"/><path d="M1240 420 L1630 620 L1400 840 L880 960" stroke="#8a8280" stroke-width="31" fill="none" stroke-linecap="round" stroke-linejoin="round"/><path d="M1060 420 L1100 430" stroke="#b89888" stroke-width="42" fill="none" stroke-linecap="round" stroke-linejoin="round"/><path d="M390 380 C380 250 440 130 540 85 C630 60 720 100 740 180 C750 260 700 340 620 380 C560 410 490 420 450 440 L410 500 C380 480 385 430 390 380 Z" fill="#2a2e32"/><ellipse cx="580" cy="260" rx="110" ry="110" fill="#c0c6cc" fill-opacity="0.6"/><path d="M740 190 C780 140 840 110 900 120 C960 140 1000 190 1030 230 L1130 240 L1180 300 L1200 360 L1160 400 L1060 410 L1000 370 L930 330 L840 300 L770 250 Z" fill="#4e5258"/><ellipse cx="860" cy="220" rx="60" ry="80" fill="#b8bec4" fill-opacity="0.5"/><path d="M1200 360 L1270 240 L1310 240 L1340 250 L1370 240 L1410 270 L1400 320 L1340 330 L1280 340 L1230 370 Z" fill="#3e4246"/><ellipse cx="1600" cy="360" rx="190" ry="160" fill="#24272a" transform="rotate(10 1600 360)"/><ellipse cx="1580" cy="380" rx="120" ry="90" fill="#c8ccd0" fill-opacity="0.65"/></g><g transform="translate(1740 1768) scale(0.11502)"><path d="M340 320 L290 50 L180 160 L60 480 L100 600" stroke="#8a8078" stroke-width="24" fill="none" stroke-linecap="round" stroke-linejoin="round"/><path d="M350 330 L200 170" stroke="#6a6060" stroke-width="17" fill="none" stroke-linecap="round" stroke-linejoin="round"/><path d="M800 290 L850 420" stroke="#3a3c40" stroke-width="110" fill="none" stroke-linecap="round" stroke-linejoin="round"/><path d="M840 430 L560 620 L760 810 L1030 740" stroke="#6a6060" stroke-width="36" fill="none" stroke-linecap="round" stroke-linejoin="round"/><path d="M1080 420 L1390 660 L1200 780 L820 920" stroke="#6a6060" stroke-width="31" fill="none" stroke-linecap="round" stroke-linejoin="round"/><path d="M1200 440 L1640 620 L1380 840 L800 1010" stroke="#6a6060" stroke-width="31" fill="none" stroke-linecap="round" stroke-linejoin="round"/><path d="M1150 440 L1400 590 L1230 720 L780 940" stroke="#7a7070" stroke-width="22" fill="none" stroke-linecap="round" stroke-linejoin="round"/><path d="M350 380 C340 240 400 110 500 75 C590 55 670 110 680 190 C690 280 640 360 560 400 C510 420 460 430 440 460 L430 580 C390 560 360 520 360 470 Z" fill="#7a3224"/><ellipse cx="600" cy="230" rx="90" ry="150" fill="#2a2c30" fill-opacity="0.5"/><ellipse cx="540" cy="250" rx="80" ry="80" fill="#c0c4c8" fill-opacity="0.5"/><path d="M680 160 C710 100 770 70 830 70 C890 80 930 140 960 200 L1050 220 L1110 260 L1140 330 L1130 380 L1060 400 L990 400 L930 350 L880 300 L800 280 L740 240 Z" fill="#8a4a40"/><ellipse cx="800" cy="160" rx="80" ry="80" fill="#c08070" fill-opacity="0.6"/><path d="M1150 340 L1200 210 L1240 230 L1270 210 L1310 200 L1350 240 L1340 290 L1280 300 L1230 320 L1170 370 Z" fill="#6a4444"/><ellipse cx="1570" cy="350" rx="210" ry="160" fill="#24272a" transform="rotate(15 1570 350)"/><ellipse cx="1550" cy="350" rx="120" ry="70" fill="#b8bcc0" fill-opacity="0.6"/></g><g transform="translate(1740 1885) scale(0.11502)"><path d="M390 360 L220 250 L180 240 L70 520 L90 640" stroke="#7a7070" stroke-width="27" fill="none" stroke-linecap="round" stroke-linejoin="round"/><path d="M830 380 L860 480" stroke="#4a4c52" stroke-width="100" fill="none" stroke-linecap="round" stroke-linejoin="round"/><path d="M860 500 L560 680 L800 790" stroke="#7a6668" stroke-width="36" fill="none" stroke-linecap="round" stroke-linejoin="round"/><path d="M800 790 L960 530" stroke="#d8b878" stroke-width="21" fill="none" stroke-linecap="round" stroke-linejoin="round"/><path d="M1100 500 L1430 620 L1200 730 L820 840" stroke="#7a6668" stroke-width="29" fill="none" stroke-linecap="round" stroke-linejoin="round"/><path d="M1230 490 L1650 500 L1440 800 L890 900" stroke="#7a6668" stroke-width="29" fill="none" stroke-linecap="round" stroke-linejoin="round"/><path d="M1120 520 L1400 680 L940 930" stroke="#c8b090" stroke-width="20" fill="none" stroke-linecap="round" stroke-linejoin="round"/><path d="M400 400 C390 260 450 150 550 125 C640 110 700 160 710 240 C710 320 660 390 580 420 C530 440 480 450 460 470 L440 560 C410 540 400 480 400 440 Z" fill="#6a2e32"/><ellipse cx="550" cy="280" rx="60" ry="50" fill="#d0b8b8" fill-opacity="0.6"/><path d="M710 230 C740 170 790 140 840 140 C900 150 930 200 950 250 L1050 270 L1150 290 L1170 340 L1160 420 L1230 470 L1150 500 L1050 490 L980 450 L920 400 L840 350 L760 300 Z" fill="#7a4248"/><ellipse cx="820" cy="220" rx="60" ry="60" fill="#b07880" fill-opacity="0.6"/><path d="M1180 380 L1230 270 L1270 290 L1300 250 L1370 240 L1400 300 L1380 350 L1310 340 L1260 360 L1200 400 Z" fill="#6a4a4c"/><ellipse cx="1600" cy="320" rx="210" ry="150" fill="#222528" transform="rotate(8 1600 320)"/><ellipse cx="1590" cy="320" rx="130" ry="60" fill="#a0a8ac" fill-opacity="0.6"/></g>
<g></g>
<text x="1953" y="136.6" text-anchor="end" font-family="DejaVu Sans, sans-serif" font-weight="bold" font-size="20px" fill="#000">a</text>
<text x="1953" y="258.6" text-anchor="end" font-family="DejaVu Sans, sans-serif" font-weight="bold" font-size="20px" fill="#000">b</text>
<text x="1953" y="372" text-anchor="end" font-family="DejaVu Sans, sans-serif" font-weight="bold" font-size="20px" fill="#000">c</text>
<text x="1953" y="490.6" text-anchor="end" font-family="DejaVu Sans, sans-serif" font-weight="bold" font-size="20px" fill="#000">d</text>
<text x="1953" y="606.8" text-anchor="end" font-family="DejaVu Sans, sans-serif" font-weight="bold" font-size="20px" fill="#000">e</text>
<text x="1953" y="721.3" text-anchor="end" font-family="DejaVu Sans, sans-serif" font-weight="bold" font-size="20px" fill="#000">f</text>
<text x="1953" y="832" text-anchor="end" font-family="DejaVu Sans, sans-serif" font-weight="bold" font-size="20px" fill="#000">g</text>
<text x="1953" y="943.3" text-anchor="end" font-family="DejaVu Sans, sans-serif" font-weight="bold" font-size="20px" fill="#000">h</text>
<text x="1953" y="1065" text-anchor="end" font-family="DejaVu Sans, sans-serif" font-weight="bold" font-size="20px" fill="#000">i</text>
<text x="1953" y="1180" text-anchor="end" font-family="DejaVu Sans, sans-serif" font-weight="bold" font-size="20px" fill="#000">j</text>
<text x="1953" y="1289.5" text-anchor="end" font-family="DejaVu Sans, sans-serif" font-weight="bold" font-size="20px" fill="#000">k</text>
<text x="1953" y="1406.4" text-anchor="end" font-family="DejaVu Sans, sans-serif" font-weight="bold" font-size="20px" fill="#000">l</text>
<text x="1953" y="1532" text-anchor="end" font-family="DejaVu Sans, sans-serif" font-weight="bold" font-size="20px" fill="#000">m</text>
<text x="1953" y="1670" text-anchor="end" font-family="DejaVu Sans, sans-serif" font-weight="bold" font-size="20px" fill="#000">o</text>
<text x="1953" y="1790.5" text-anchor="end" font-family="DejaVu Sans, sans-serif" font-weight="bold" font-size="20px" fill="#000">p</text>
<text x="1953" y="1907" text-anchor="end" font-family="DejaVu Sans, sans-serif" font-weight="bold" font-size="20px" fill="#000">q</text>
</svg>
</body></html>
